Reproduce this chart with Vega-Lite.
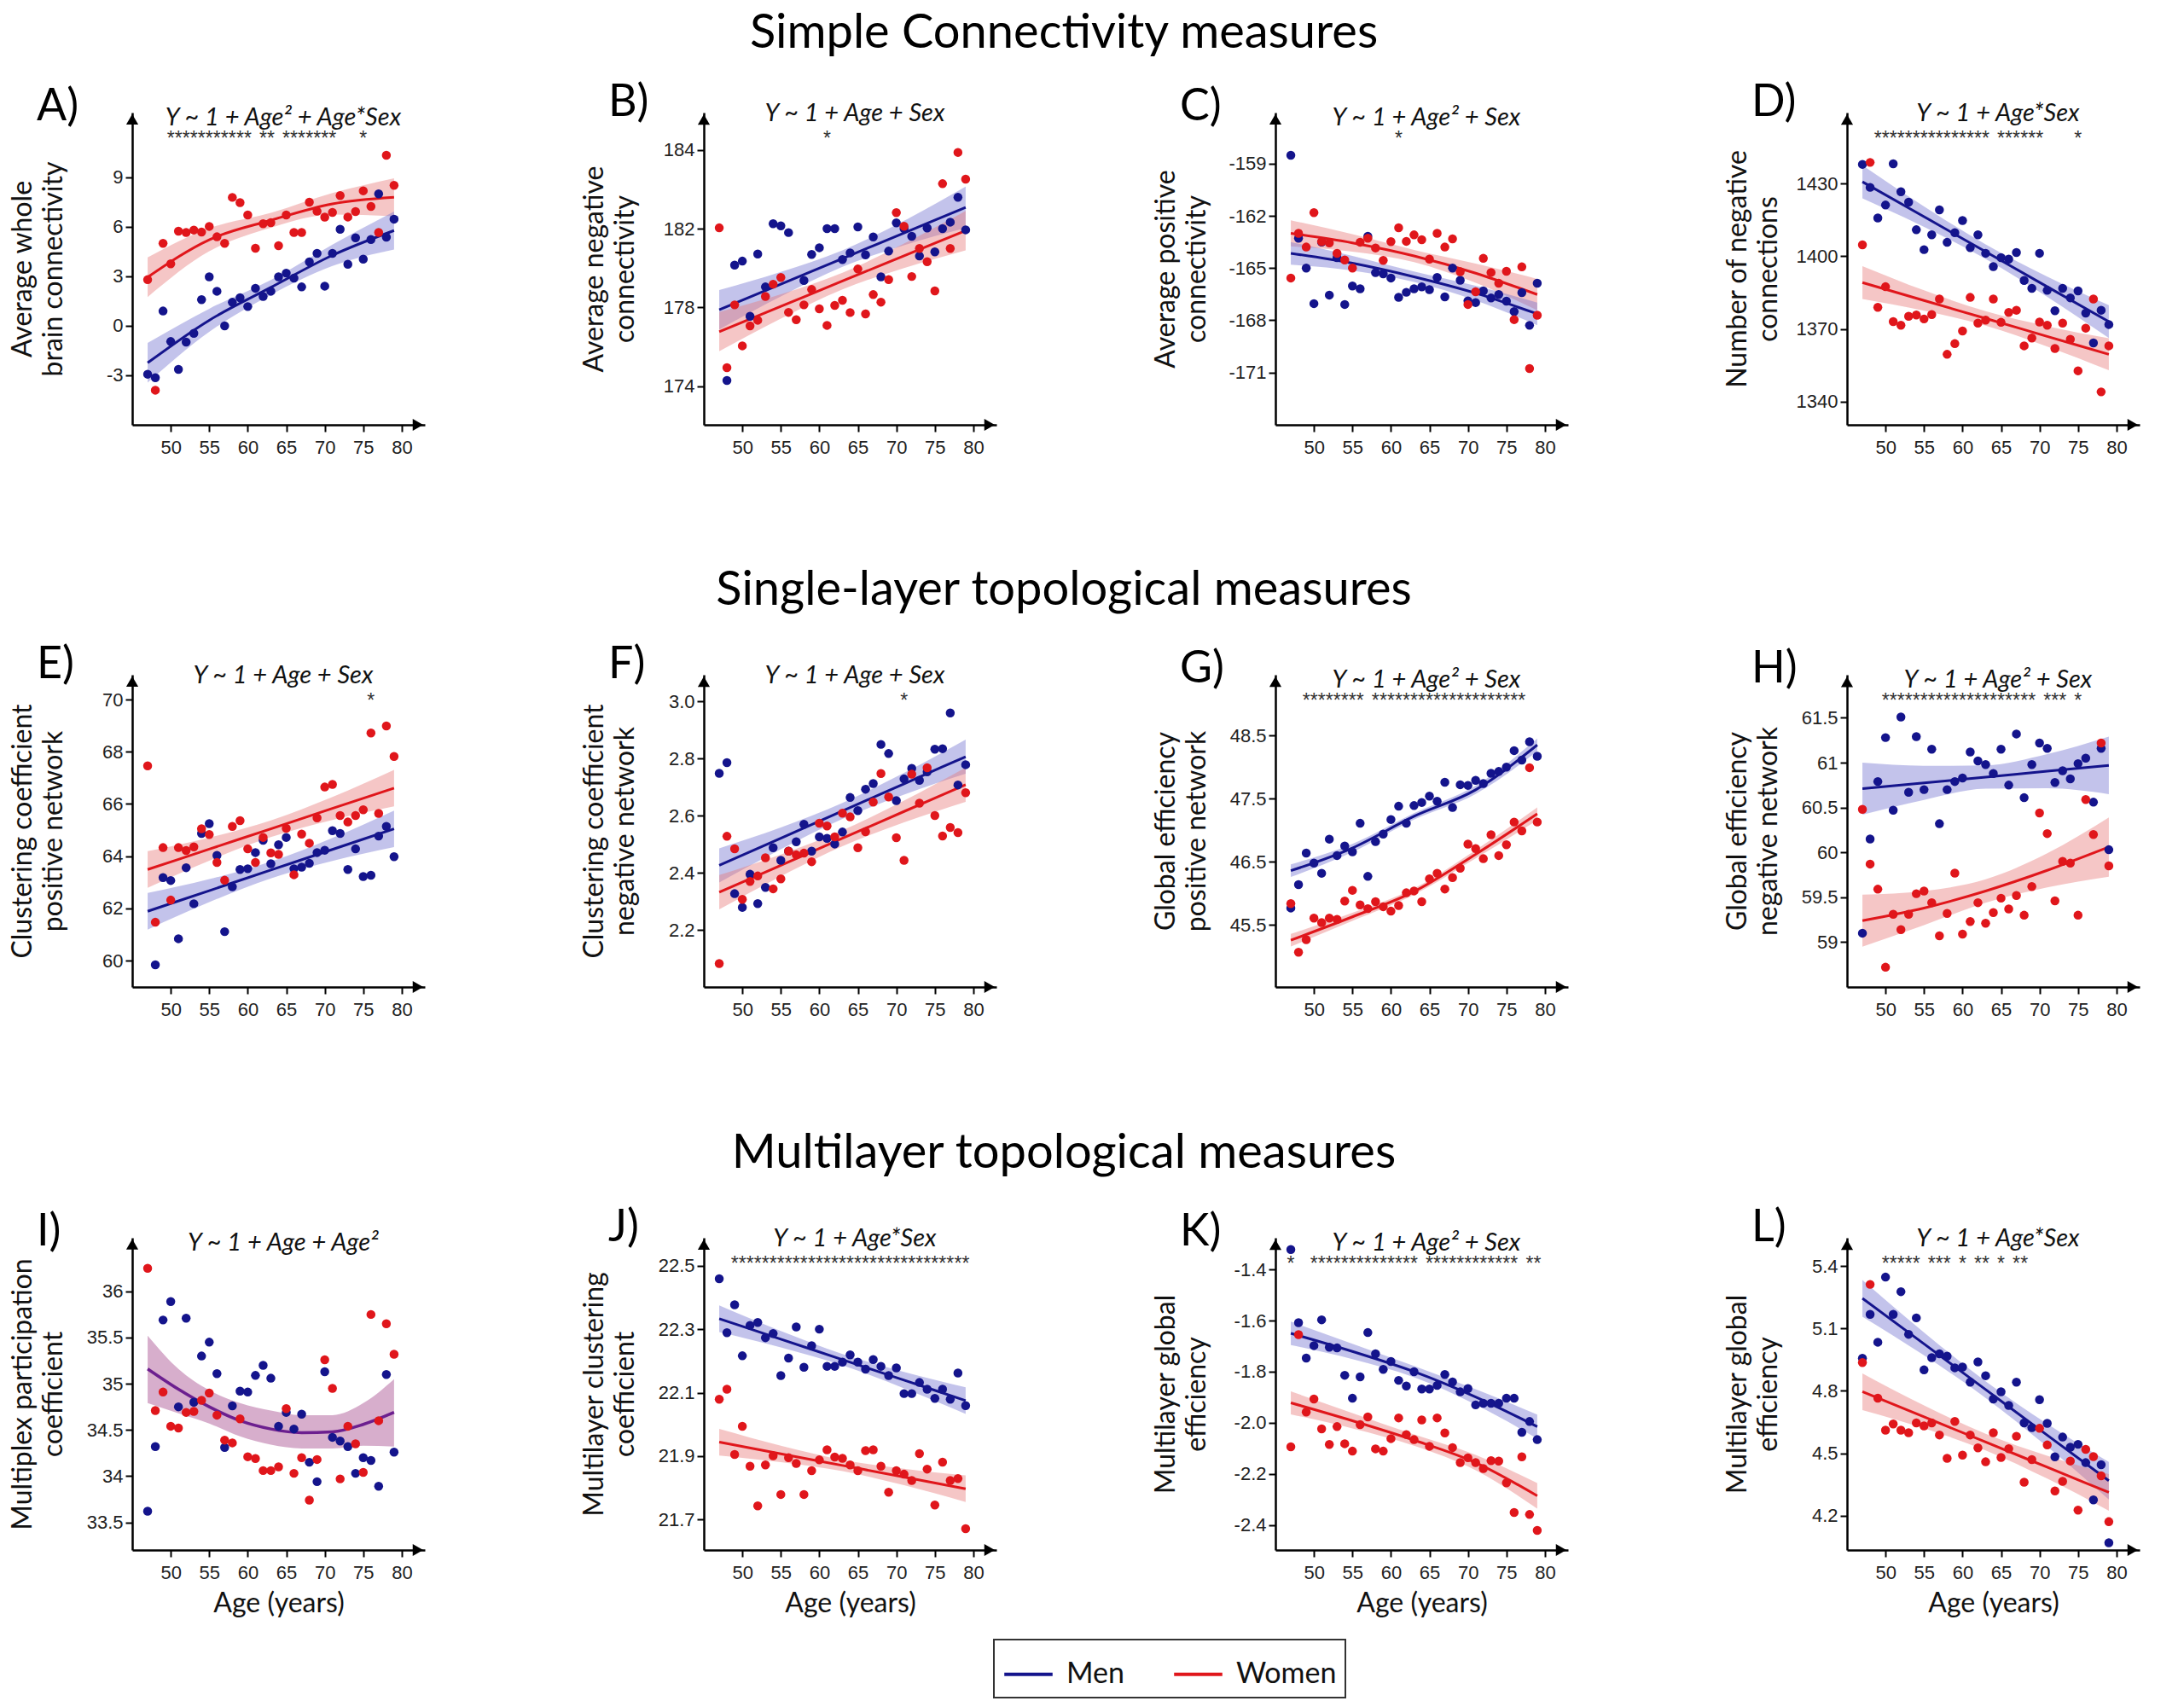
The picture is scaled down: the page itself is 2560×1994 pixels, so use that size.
{
"$schema":"https://vega.github.io/schema/vega-lite/v6.json",
"background":"white",
"padding":{"top":10,"left":9,"right":5,"bottom":2},
"config":{
 "view":{"stroke":null},
 "font":"Lato",
 "axis":{"grid":false,"domainColor":"#000","domainWidth":2.5,"tickColor":"#000","tickWidth":2,"tickSize":8,"labelFont":"Liberation Sans","labelFontSize":22,"labelColor":"#222","titleFont":"Lato","titleFontSize":32,"titleFontWeight":"normal","titleColor":"#111","labelExpr":"replace(datum.label, '\u2212', '-')"},
 "axisX":{"labelPadding":8,"titlePadding":10,"labelFlush":false},
 "axisY":{"labelPadding":3,"titleAngle":-90,"titleX":-112,"titleY":183,"titleAlign":"center","titleBaseline":"bottom","titleLineHeight":36,"labelOverlap":false},
 "legend":{"symbolStrokeWidth":4,"symbolSize":3200,"labelFont":"Lato","labelFontSize":34,"labelColor":"#111","strokeColor":"#333","strokeWidth":2,"padding":10,"columnPadding":50,"labelOffset":14}
},
"datasets":{
"pts":[
{"p":"A","s":"Women","a":47,"v":2.8},{"p":"A","s":"Women","a":48,"v":-3.9},{"p":"A","s":"Women","a":49,"v":5.0},{"p":"A","s":"Women","a":50,"v":3.76},{"p":"A","s":"Women","a":51,"v":5.74},{"p":"A","s":"Women","a":52,"v":5.66},{"p":"A","s":"Women","a":53,"v":5.81},{"p":"A","s":"Women","a":54,"v":5.69},{"p":"A","s":"Women","a":55,"v":6.03},{"p":"A","s":"Women","a":56,"v":5.4},{"p":"A","s":"Women","a":57,"v":5.0},{"p":"A","s":"Women","a":58,"v":7.79},{"p":"A","s":"Women","a":59,"v":7.47},{"p":"A","s":"Women","a":60,"v":6.72},{"p":"A","s":"Women","a":61,"v":4.71},{"p":"A","s":"Women","a":62,"v":6.19},{"p":"A","s":"Women","a":63,"v":6.26},{"p":"A","s":"Women","a":64,"v":4.86},{"p":"A","s":"Women","a":65,"v":6.72},{"p":"A","s":"Women","a":66,"v":5.66},{"p":"A","s":"Women","a":67,"v":5.66},{"p":"A","s":"Women","a":68,"v":7.5},{"p":"A","s":"Women","a":69,"v":6.95},{"p":"A","s":"Women","a":70,"v":6.59},{"p":"A","s":"Women","a":71,"v":6.88},{"p":"A","s":"Women","a":72,"v":7.9},{"p":"A","s":"Women","a":73,"v":6.6},{"p":"A","s":"Women","a":74,"v":6.93},{"p":"A","s":"Women","a":75,"v":8.19},{"p":"A","s":"Women","a":76,"v":7.24},{"p":"A","s":"Women","a":77,"v":5.66},{"p":"A","s":"Women","a":78,"v":10.34},{"p":"A","s":"Women","a":79,"v":8.52},
{"p":"A","s":"Men","a":47,"v":-2.93},{"p":"A","s":"Men","a":48,"v":-3.14},{"p":"A","s":"Men","a":49,"v":0.9},{"p":"A","s":"Men","a":50,"v":-0.95},{"p":"A","s":"Men","a":51,"v":-2.64},{"p":"A","s":"Men","a":52,"v":-0.98},{"p":"A","s":"Men","a":53,"v":-0.45},{"p":"A","s":"Men","a":54,"v":1.59},{"p":"A","s":"Men","a":55,"v":2.97},{"p":"A","s":"Men","a":56,"v":2.1},{"p":"A","s":"Men","a":57,"v":0},{"p":"A","s":"Men","a":58,"v":1.43},{"p":"A","s":"Men","a":59,"v":1.71},{"p":"A","s":"Men","a":60,"v":1.17},{"p":"A","s":"Men","a":61,"v":2.28},{"p":"A","s":"Men","a":62,"v":1.78},{"p":"A","s":"Men","a":63,"v":2.1},{"p":"A","s":"Men","a":64,"v":2.97},{"p":"A","s":"Men","a":65,"v":3.2},{"p":"A","s":"Men","a":66,"v":2.9},{"p":"A","s":"Men","a":67,"v":2.36},{"p":"A","s":"Men","a":68,"v":3.88},{"p":"A","s":"Men","a":69,"v":4.4},{"p":"A","s":"Men","a":70,"v":2.41},{"p":"A","s":"Men","a":71,"v":4.4},{"p":"A","s":"Men","a":72,"v":5.86},{"p":"A","s":"Men","a":73,"v":3.74},{"p":"A","s":"Men","a":74,"v":5.34},{"p":"A","s":"Men","a":75,"v":4.05},{"p":"A","s":"Men","a":76,"v":5.24},{"p":"A","s":"Men","a":77,"v":8.0},{"p":"A","s":"Men","a":78,"v":5.38},{"p":"A","s":"Men","a":79,"v":6.47},
{"p":"B","s":"Women","a":47,"v":182.04},{"p":"B","s":"Women","a":48,"v":174.94},{"p":"B","s":"Women","a":49,"v":178.13},{"p":"B","s":"Women","a":50,"v":176.05},{"p":"B","s":"Women","a":51,"v":177.06},{"p":"B","s":"Women","a":52,"v":177.35},{"p":"B","s":"Women","a":53,"v":178.56},{"p":"B","s":"Women","a":54,"v":179.18},{"p":"B","s":"Women","a":55,"v":179.52},{"p":"B","s":"Women","a":56,"v":177.75},{"p":"B","s":"Women","a":57,"v":177.38},{"p":"B","s":"Women","a":58,"v":178.13},{"p":"B","s":"Women","a":59,"v":178.91},{"p":"B","s":"Women","a":60,"v":177.93},{"p":"B","s":"Women","a":61,"v":177.09},{"p":"B","s":"Women","a":62,"v":178.1},{"p":"B","s":"Women","a":63,"v":178.36},{"p":"B","s":"Women","a":64,"v":177.74},{"p":"B","s":"Women","a":65,"v":179.95},{"p":"B","s":"Women","a":66,"v":177.67},{"p":"B","s":"Women","a":67,"v":178.65},{"p":"B","s":"Women","a":68,"v":178.27},{"p":"B","s":"Women","a":69,"v":179.41},{"p":"B","s":"Women","a":70,"v":182.81},{"p":"B","s":"Women","a":71,"v":182.12},{"p":"B","s":"Women","a":72,"v":179.57},{"p":"B","s":"Women","a":73,"v":180.99},{"p":"B","s":"Women","a":74,"v":180.32},{"p":"B","s":"Women","a":75,"v":178.84},{"p":"B","s":"Women","a":76,"v":184.28},{"p":"B","s":"Women","a":77,"v":180.99},{"p":"B","s":"Women","a":78,"v":185.87},{"p":"B","s":"Women","a":79,"v":184.51},
{"p":"B","s":"Men","a":48,"v":174.29},{"p":"B","s":"Men","a":49,"v":180.15},{"p":"B","s":"Men","a":50,"v":180.35},{"p":"B","s":"Men","a":51,"v":177.55},{"p":"B","s":"Men","a":52,"v":180.71},{"p":"B","s":"Men","a":53,"v":179.04},{"p":"B","s":"Men","a":54,"v":182.25},{"p":"B","s":"Men","a":55,"v":182.14},{"p":"B","s":"Men","a":56,"v":181.8},{"p":"B","s":"Men","a":58,"v":179.37},{"p":"B","s":"Men","a":59,"v":180.69},{"p":"B","s":"Men","a":60,"v":181.03},{"p":"B","s":"Men","a":61,"v":182.0},{"p":"B","s":"Men","a":62,"v":182.0},{"p":"B","s":"Men","a":63,"v":180.43},{"p":"B","s":"Men","a":64,"v":180.77},{"p":"B","s":"Men","a":65,"v":182.09},{"p":"B","s":"Men","a":66,"v":180.67},{"p":"B","s":"Men","a":67,"v":181.58},{"p":"B","s":"Men","a":68,"v":179.55},{"p":"B","s":"Men","a":69,"v":180.86},{"p":"B","s":"Men","a":70,"v":182.29},{"p":"B","s":"Men","a":71,"v":182.0},{"p":"B","s":"Men","a":72,"v":181.61},{"p":"B","s":"Men","a":73,"v":180.61},{"p":"B","s":"Men","a":74,"v":182.03},{"p":"B","s":"Men","a":75,"v":180.82},{"p":"B","s":"Men","a":76,"v":182.0},{"p":"B","s":"Men","a":77,"v":182.33},{"p":"B","s":"Men","a":78,"v":183.59},{"p":"B","s":"Men","a":79,"v":181.94},
{"p":"C","s":"Women","a":47,"v":-165.57},{"p":"C","s":"Women","a":48,"v":-163.0},{"p":"C","s":"Women","a":49,"v":-163.79},{"p":"C","s":"Women","a":50,"v":-161.81},{"p":"C","s":"Women","a":51,"v":-163.48},{"p":"C","s":"Women","a":52,"v":-163.55},{"p":"C","s":"Women","a":53,"v":-164.15},{"p":"C","s":"Women","a":54,"v":-164.53},{"p":"C","s":"Women","a":55,"v":-165.0},{"p":"C","s":"Women","a":56,"v":-163.51},{"p":"C","s":"Women","a":57,"v":-163.28},{"p":"C","s":"Women","a":58,"v":-163.84},{"p":"C","s":"Women","a":59,"v":-164.56},{"p":"C","s":"Women","a":60,"v":-163.48},{"p":"C","s":"Women","a":61,"v":-162.68},{"p":"C","s":"Women","a":62,"v":-163.46},{"p":"C","s":"Women","a":63,"v":-163.09},{"p":"C","s":"Women","a":64,"v":-163.37},{"p":"C","s":"Women","a":65,"v":-164.48},{"p":"C","s":"Women","a":66,"v":-163.0},{"p":"C","s":"Women","a":67,"v":-163.79},{"p":"C","s":"Women","a":68,"v":-163.32},{"p":"C","s":"Women","a":69,"v":-165.21},{"p":"C","s":"Women","a":70,"v":-167.09},{"p":"C","s":"Women","a":71,"v":-166.36},{"p":"C","s":"Women","a":72,"v":-164.44},{"p":"C","s":"Women","a":73,"v":-165.25},{"p":"C","s":"Women","a":74,"v":-165.87},{"p":"C","s":"Women","a":75,"v":-165.18},{"p":"C","s":"Women","a":76,"v":-167.96},{"p":"C","s":"Women","a":77,"v":-164.93},{"p":"C","s":"Women","a":78,"v":-170.77},{"p":"C","s":"Women","a":79,"v":-167.71},
{"p":"C","s":"Men","a":47,"v":-158.51},{"p":"C","s":"Men","a":48,"v":-163.28},{"p":"C","s":"Men","a":49,"v":-165.0},{"p":"C","s":"Men","a":50,"v":-167.04},{"p":"C","s":"Men","a":51,"v":-163.5},{"p":"C","s":"Men","a":52,"v":-166.55},{"p":"C","s":"Men","a":53,"v":-164.4},{"p":"C","s":"Men","a":54,"v":-167.09},{"p":"C","s":"Men","a":55,"v":-166.03},{"p":"C","s":"Men","a":56,"v":-166.19},{"p":"C","s":"Men","a":57,"v":-163.17},{"p":"C","s":"Men","a":58,"v":-165.26},{"p":"C","s":"Men","a":59,"v":-165.33},{"p":"C","s":"Men","a":60,"v":-165.57},{"p":"C","s":"Men","a":61,"v":-166.68},{"p":"C","s":"Men","a":62,"v":-166.39},{"p":"C","s":"Men","a":63,"v":-166.19},{"p":"C","s":"Men","a":64,"v":-166.08},{"p":"C","s":"Men","a":65,"v":-166.24},{"p":"C","s":"Men","a":66,"v":-165.54},{"p":"C","s":"Men","a":67,"v":-166.65},{"p":"C","s":"Men","a":68,"v":-165.0},{"p":"C","s":"Men","a":69,"v":-165.7},{"p":"C","s":"Men","a":70,"v":-166.88},{"p":"C","s":"Men","a":71,"v":-166.98},{"p":"C","s":"Men","a":72,"v":-166.31},{"p":"C","s":"Men","a":73,"v":-166.72},{"p":"C","s":"Men","a":74,"v":-166.52},{"p":"C","s":"Men","a":75,"v":-166.9},{"p":"C","s":"Men","a":76,"v":-167.5},{"p":"C","s":"Men","a":77,"v":-166.41},{"p":"C","s":"Men","a":78,"v":-168.29},{"p":"C","s":"Men","a":79,"v":-165.87},
{"p":"D","s":"Men","a":47,"v":1437.9},{"p":"D","s":"Men","a":48,"v":1428.4},{"p":"D","s":"Men","a":49,"v":1415.8},{"p":"D","s":"Men","a":50,"v":1421.1},{"p":"D","s":"Men","a":51,"v":1438.1},{"p":"D","s":"Men","a":52,"v":1426.6},{"p":"D","s":"Men","a":53,"v":1422.3},{"p":"D","s":"Men","a":54,"v":1410.9},{"p":"D","s":"Men","a":55,"v":1402.7},{"p":"D","s":"Men","a":56,"v":1408.8},{"p":"D","s":"Men","a":57,"v":1419.1},{"p":"D","s":"Men","a":58,"v":1405.7},{"p":"D","s":"Men","a":59,"v":1409.7},{"p":"D","s":"Men","a":60,"v":1414.7},{"p":"D","s":"Men","a":61,"v":1403.5},{"p":"D","s":"Men","a":62,"v":1408.8},{"p":"D","s":"Men","a":63,"v":1401.2},{"p":"D","s":"Men","a":64,"v":1395.7},{"p":"D","s":"Men","a":65,"v":1399.4},{"p":"D","s":"Men","a":66,"v":1398.8},{"p":"D","s":"Men","a":67,"v":1401.5},{"p":"D","s":"Men","a":68,"v":1390.0},{"p":"D","s":"Men","a":69,"v":1386.7},{"p":"D","s":"Men","a":70,"v":1401.2},{"p":"D","s":"Men","a":71,"v":1385.9},{"p":"D","s":"Men","a":72,"v":1377.5},{"p":"D","s":"Men","a":73,"v":1386.7},{"p":"D","s":"Men","a":74,"v":1382.8},{"p":"D","s":"Men","a":75,"v":1385.7},{"p":"D","s":"Men","a":76,"v":1376.5},{"p":"D","s":"Men","a":77,"v":1364.2},{"p":"D","s":"Men","a":78,"v":1377.7},{"p":"D","s":"Men","a":79,"v":1371.8},
{"p":"D","s":"Women","a":47,"v":1404.7},{"p":"D","s":"Women","a":48,"v":1438.7},{"p":"D","s":"Women","a":49,"v":1378.9},{"p":"D","s":"Women","a":50,"v":1387.4},{"p":"D","s":"Women","a":51,"v":1373.0},{"p":"D","s":"Women","a":52,"v":1371.5},{"p":"D","s":"Women","a":53,"v":1375.2},{"p":"D","s":"Women","a":54,"v":1375.7},{"p":"D","s":"Women","a":55,"v":1374.1},{"p":"D","s":"Women","a":56,"v":1375.9},{"p":"D","s":"Women","a":57,"v":1382.3},{"p":"D","s":"Women","a":58,"v":1359.5},{"p":"D","s":"Women","a":59,"v":1363.9},{"p":"D","s":"Women","a":60,"v":1369.1},{"p":"D","s":"Women","a":61,"v":1383.0},{"p":"D","s":"Women","a":62,"v":1372.4},{"p":"D","s":"Women","a":63,"v":1373.6},{"p":"D","s":"Women","a":64,"v":1382.3},{"p":"D","s":"Women","a":65,"v":1372.7},{"p":"D","s":"Women","a":66,"v":1376.8},{"p":"D","s":"Women","a":67,"v":1377.7},{"p":"D","s":"Women","a":68,"v":1363.0},{"p":"D","s":"Women","a":69,"v":1366.2},{"p":"D","s":"Women","a":70,"v":1372.8},{"p":"D","s":"Women","a":71,"v":1371.5},{"p":"D","s":"Women","a":72,"v":1361.9},{"p":"D","s":"Women","a":73,"v":1372.4},{"p":"D","s":"Women","a":74,"v":1365.7},{"p":"D","s":"Women","a":75,"v":1352.7},{"p":"D","s":"Women","a":76,"v":1370.3},{"p":"D","s":"Women","a":77,"v":1382.3},{"p":"D","s":"Women","a":78,"v":1344.0},{"p":"D","s":"Women","a":79,"v":1363.0},
{"p":"E","s":"Women","a":47,"v":67.46},{"p":"E","s":"Women","a":48,"v":61.47},{"p":"E","s":"Women","a":49,"v":64.33},{"p":"E","s":"Women","a":50,"v":62.32},{"p":"E","s":"Women","a":51,"v":64.33},{"p":"E","s":"Women","a":52,"v":64.22},{"p":"E","s":"Women","a":53,"v":64.36},{"p":"E","s":"Women","a":54,"v":65.05},{"p":"E","s":"Women","a":55,"v":64.83},{"p":"E","s":"Women","a":56,"v":63.76},{"p":"E","s":"Women","a":57,"v":63.08},{"p":"E","s":"Women","a":58,"v":65.14},{"p":"E","s":"Women","a":59,"v":65.36},{"p":"E","s":"Women","a":60,"v":64.28},{"p":"E","s":"Women","a":61,"v":63.76},{"p":"E","s":"Women","a":62,"v":64.72},{"p":"E","s":"Women","a":63,"v":64.13},{"p":"E","s":"Women","a":64,"v":64.07},{"p":"E","s":"Women","a":65,"v":65.07},{"p":"E","s":"Women","a":66,"v":63.29},{"p":"E","s":"Women","a":67,"v":64.85},{"p":"E","s":"Women","a":68,"v":64.5},{"p":"E","s":"Women","a":69,"v":65.47},{"p":"E","s":"Women","a":70,"v":66.65},{"p":"E","s":"Women","a":71,"v":66.75},{"p":"E","s":"Women","a":72,"v":65.56},{"p":"E","s":"Women","a":73,"v":65.31},{"p":"E","s":"Women","a":74,"v":65.56},{"p":"E","s":"Women","a":75,"v":65.78},{"p":"E","s":"Women","a":76,"v":68.72},{"p":"E","s":"Women","a":77,"v":65.64},{"p":"E","s":"Women","a":78,"v":68.99},{"p":"E","s":"Women","a":79,"v":67.82},
{"p":"E","s":"Men","a":48,"v":59.84},{"p":"E","s":"Men","a":49,"v":63.18},{"p":"E","s":"Men","a":50,"v":63.07},{"p":"E","s":"Men","a":51,"v":60.84},{"p":"E","s":"Men","a":52,"v":63.56},{"p":"E","s":"Men","a":53,"v":62.18},{"p":"E","s":"Men","a":54,"v":64.87},{"p":"E","s":"Men","a":55,"v":65.25},{"p":"E","s":"Men","a":56,"v":64.03},{"p":"E","s":"Men","a":57,"v":61.11},{"p":"E","s":"Men","a":58,"v":62.83},{"p":"E","s":"Men","a":59,"v":63.49},{"p":"E","s":"Men","a":60,"v":63.52},{"p":"E","s":"Men","a":61,"v":64.14},{"p":"E","s":"Men","a":62,"v":64.61},{"p":"E","s":"Men","a":63,"v":63.71},{"p":"E","s":"Men","a":64,"v":64.44},{"p":"E","s":"Men","a":65,"v":64.72},{"p":"E","s":"Men","a":66,"v":63.52},{"p":"E","s":"Men","a":67,"v":63.58},{"p":"E","s":"Men","a":68,"v":63.73},{"p":"E","s":"Men","a":69,"v":64.14},{"p":"E","s":"Men","a":70,"v":64.23},{"p":"E","s":"Men","a":71,"v":64.98},{"p":"E","s":"Men","a":72,"v":64.87},{"p":"E","s":"Men","a":73,"v":63.49},{"p":"E","s":"Men","a":74,"v":64.28},{"p":"E","s":"Men","a":75,"v":63.22},{"p":"E","s":"Men","a":76,"v":63.27},{"p":"E","s":"Men","a":77,"v":64.77},{"p":"E","s":"Men","a":78,"v":65.14},{"p":"E","s":"Men","a":79,"v":63.98},
{"p":"F","s":"Men","a":47,"v":2.749},{"p":"F","s":"Men","a":48,"v":2.786},{"p":"F","s":"Men","a":49,"v":2.327},{"p":"F","s":"Men","a":50,"v":2.279},{"p":"F","s":"Men","a":51,"v":2.395},{"p":"F","s":"Men","a":52,"v":2.292},{"p":"F","s":"Men","a":53,"v":2.349},{"p":"F","s":"Men","a":54,"v":2.488},{"p":"F","s":"Men","a":55,"v":2.444},{"p":"F","s":"Men","a":56,"v":2.476},{"p":"F","s":"Men","a":57,"v":2.509},{"p":"F","s":"Men","a":58,"v":2.57},{"p":"F","s":"Men","a":59,"v":2.476},{"p":"F","s":"Men","a":60,"v":2.526},{"p":"F","s":"Men","a":61,"v":2.521},{"p":"F","s":"Men","a":62,"v":2.501},{"p":"F","s":"Men","a":63,"v":2.543},{"p":"F","s":"Men","a":64,"v":2.664},{"p":"F","s":"Men","a":65,"v":2.618},{"p":"F","s":"Men","a":66,"v":2.693},{"p":"F","s":"Men","a":67,"v":2.713},{"p":"F","s":"Men","a":68,"v":2.85},{"p":"F","s":"Men","a":69,"v":2.818},{"p":"F","s":"Men","a":70,"v":2.653},{"p":"F","s":"Men","a":71,"v":2.729},{"p":"F","s":"Men","a":72,"v":2.766},{"p":"F","s":"Men","a":73,"v":2.724},{"p":"F","s":"Men","a":74,"v":2.754},{"p":"F","s":"Men","a":75,"v":2.833},{"p":"F","s":"Men","a":76,"v":2.835},{"p":"F","s":"Men","a":77,"v":2.96},{"p":"F","s":"Men","a":78,"v":2.708},{"p":"F","s":"Men","a":79,"v":2.779},
{"p":"F","s":"Women","a":47,"v":2.082},{"p":"F","s":"Women","a":48,"v":2.528},{"p":"F","s":"Women","a":49,"v":2.484},{"p":"F","s":"Women","a":50,"v":2.307},{"p":"F","s":"Women","a":51,"v":2.37},{"p":"F","s":"Women","a":52,"v":2.389},{"p":"F","s":"Women","a":53,"v":2.453},{"p":"F","s":"Women","a":54,"v":2.344},{"p":"F","s":"Women","a":55,"v":2.379},{"p":"F","s":"Women","a":56,"v":2.476},{"p":"F","s":"Women","a":57,"v":2.463},{"p":"F","s":"Women","a":58,"v":2.469},{"p":"F","s":"Women","a":59,"v":2.439},{"p":"F","s":"Women","a":60,"v":2.574},{"p":"F","s":"Women","a":61,"v":2.564},{"p":"F","s":"Women","a":62,"v":2.526},{"p":"F","s":"Women","a":63,"v":2.609},{"p":"F","s":"Women","a":64,"v":2.596},{"p":"F","s":"Women","a":65,"v":2.488},{"p":"F","s":"Women","a":66,"v":2.544},{"p":"F","s":"Women","a":67,"v":2.648},{"p":"F","s":"Women","a":68,"v":2.748},{"p":"F","s":"Women","a":69,"v":2.666},{"p":"F","s":"Women","a":70,"v":2.523},{"p":"F","s":"Women","a":71,"v":2.444},{"p":"F","s":"Women","a":72,"v":2.746},{"p":"F","s":"Women","a":73,"v":2.644},{"p":"F","s":"Women","a":74,"v":2.768},{"p":"F","s":"Women","a":75,"v":2.601},{"p":"F","s":"Women","a":76,"v":2.529},{"p":"F","s":"Women","a":77,"v":2.559},{"p":"F","s":"Women","a":78,"v":2.541},{"p":"F","s":"Women","a":79,"v":2.681},
{"p":"G","s":"Men","a":47,"v":45.77},{"p":"G","s":"Men","a":48,"v":46.14},{"p":"G","s":"Men","a":49,"v":46.64},{"p":"G","s":"Men","a":50,"v":46.48},{"p":"G","s":"Men","a":51,"v":46.32},{"p":"G","s":"Men","a":52,"v":46.86},{"p":"G","s":"Men","a":53,"v":46.6},{"p":"G","s":"Men","a":54,"v":46.75},{"p":"G","s":"Men","a":55,"v":46.66},{"p":"G","s":"Men","a":56,"v":47.11},{"p":"G","s":"Men","a":57,"v":46.27},{"p":"G","s":"Men","a":58,"v":46.82},{"p":"G","s":"Men","a":59,"v":46.94},{"p":"G","s":"Men","a":60,"v":47.17},{"p":"G","s":"Men","a":61,"v":47.38},{"p":"G","s":"Men","a":62,"v":47.11},{"p":"G","s":"Men","a":63,"v":47.39},{"p":"G","s":"Men","a":64,"v":47.44},{"p":"G","s":"Men","a":65,"v":47.54},{"p":"G","s":"Men","a":66,"v":47.46},{"p":"G","s":"Men","a":67,"v":47.76},{"p":"G","s":"Men","a":68,"v":47.36},{"p":"G","s":"Men","a":69,"v":47.72},{"p":"G","s":"Men","a":70,"v":47.71},{"p":"G","s":"Men","a":71,"v":47.79},{"p":"G","s":"Men","a":72,"v":47.74},{"p":"G","s":"Men","a":73,"v":47.9},{"p":"G","s":"Men","a":74,"v":47.93},{"p":"G","s":"Men","a":75,"v":48.0},{"p":"G","s":"Men","a":76,"v":48.26},{"p":"G","s":"Men","a":77,"v":48.11},{"p":"G","s":"Men","a":78,"v":48.4},{"p":"G","s":"Men","a":79,"v":48.17},
{"p":"G","s":"Women","a":47,"v":45.84},{"p":"G","s":"Women","a":48,"v":45.07},{"p":"G","s":"Women","a":49,"v":45.27},{"p":"G","s":"Women","a":50,"v":45.61},{"p":"G","s":"Women","a":51,"v":45.54},{"p":"G","s":"Women","a":52,"v":45.61},{"p":"G","s":"Women","a":53,"v":45.59},{"p":"G","s":"Women","a":54,"v":45.88},{"p":"G","s":"Women","a":55,"v":46.05},{"p":"G","s":"Women","a":56,"v":45.82},{"p":"G","s":"Women","a":57,"v":45.76},{"p":"G","s":"Women","a":58,"v":45.87},{"p":"G","s":"Women","a":59,"v":45.79},{"p":"G","s":"Women","a":60,"v":45.72},{"p":"G","s":"Women","a":61,"v":45.81},{"p":"G","s":"Women","a":62,"v":46.01},{"p":"G","s":"Women","a":63,"v":46.04},{"p":"G","s":"Women","a":64,"v":45.87},{"p":"G","s":"Women","a":65,"v":46.23},{"p":"G","s":"Women","a":66,"v":46.32},{"p":"G","s":"Women","a":67,"v":46.07},{"p":"G","s":"Women","a":68,"v":46.25},{"p":"G","s":"Women","a":69,"v":46.4},{"p":"G","s":"Women","a":70,"v":46.78},{"p":"G","s":"Women","a":71,"v":46.71},{"p":"G","s":"Women","a":72,"v":46.55},{"p":"G","s":"Women","a":73,"v":46.93},{"p":"G","s":"Women","a":74,"v":46.6},{"p":"G","s":"Women","a":75,"v":46.77},{"p":"G","s":"Women","a":76,"v":47.13},{"p":"G","s":"Women","a":77,"v":46.99},{"p":"G","s":"Women","a":78,"v":47.99},{"p":"G","s":"Women","a":79,"v":47.13},
{"p":"H","s":"Men","a":47,"v":59.1},{"p":"H","s":"Men","a":48,"v":60.15},{"p":"H","s":"Men","a":49,"v":60.79},{"p":"H","s":"Men","a":50,"v":61.28},{"p":"H","s":"Men","a":51,"v":60.47},{"p":"H","s":"Men","a":52,"v":61.51},{"p":"H","s":"Men","a":53,"v":60.67},{"p":"H","s":"Men","a":54,"v":61.29},{"p":"H","s":"Men","a":55,"v":60.7},{"p":"H","s":"Men","a":56,"v":61.15},{"p":"H","s":"Men","a":57,"v":60.32},{"p":"H","s":"Men","a":58,"v":60.7},{"p":"H","s":"Men","a":59,"v":60.79},{"p":"H","s":"Men","a":60,"v":60.83},{"p":"H","s":"Men","a":61,"v":61.12},{"p":"H","s":"Men","a":62,"v":61.02},{"p":"H","s":"Men","a":63,"v":60.98},{"p":"H","s":"Men","a":64,"v":60.88},{"p":"H","s":"Men","a":65,"v":61.15},{"p":"H","s":"Men","a":66,"v":60.75},{"p":"H","s":"Men","a":67,"v":61.32},{"p":"H","s":"Men","a":68,"v":60.61},{"p":"H","s":"Men","a":69,"v":60.98},{"p":"H","s":"Men","a":70,"v":61.22},{"p":"H","s":"Men","a":71,"v":61.16},{"p":"H","s":"Men","a":72,"v":60.78},{"p":"H","s":"Men","a":73,"v":60.91},{"p":"H","s":"Men","a":74,"v":60.82},{"p":"H","s":"Men","a":75,"v":60.99},{"p":"H","s":"Men","a":76,"v":61.05},{"p":"H","s":"Men","a":77,"v":60.56},{"p":"H","s":"Men","a":78,"v":61.16},{"p":"H","s":"Men","a":79,"v":60.03},
{"p":"H","s":"Women","a":47,"v":60.48},{"p":"H","s":"Women","a":48,"v":59.87},{"p":"H","s":"Women","a":49,"v":59.59},{"p":"H","s":"Women","a":50,"v":58.72},{"p":"H","s":"Women","a":51,"v":59.31},{"p":"H","s":"Women","a":52,"v":59.14},{"p":"H","s":"Women","a":53,"v":59.31},{"p":"H","s":"Women","a":54,"v":59.54},{"p":"H","s":"Women","a":55,"v":59.57},{"p":"H","s":"Women","a":56,"v":59.44},{"p":"H","s":"Women","a":57,"v":59.07},{"p":"H","s":"Women","a":58,"v":59.32},{"p":"H","s":"Women","a":59,"v":59.77},{"p":"H","s":"Women","a":60,"v":59.09},{"p":"H","s":"Women","a":61,"v":59.23},{"p":"H","s":"Women","a":62,"v":59.44},{"p":"H","s":"Women","a":63,"v":59.21},{"p":"H","s":"Women","a":64,"v":59.33},{"p":"H","s":"Women","a":65,"v":59.49},{"p":"H","s":"Women","a":66,"v":59.37},{"p":"H","s":"Women","a":67,"v":59.52},{"p":"H","s":"Women","a":68,"v":59.3},{"p":"H","s":"Women","a":69,"v":59.62},{"p":"H","s":"Women","a":70,"v":60.44},{"p":"H","s":"Women","a":71,"v":60.21},{"p":"H","s":"Women","a":72,"v":59.46},{"p":"H","s":"Women","a":73,"v":59.9},{"p":"H","s":"Women","a":74,"v":59.88},{"p":"H","s":"Women","a":75,"v":59.3},{"p":"H","s":"Women","a":76,"v":60.59},{"p":"H","s":"Women","a":77,"v":60.2},{"p":"H","s":"Women","a":78,"v":61.22},{"p":"H","s":"Women","a":79,"v":59.85},
{"p":"I","s":"Women","a":47,"v":36.25},{"p":"I","s":"Women","a":48,"v":34.71},{"p":"I","s":"Women","a":49,"v":34.91},{"p":"I","s":"Women","a":50,"v":34.54},{"p":"I","s":"Women","a":51,"v":34.52},{"p":"I","s":"Women","a":52,"v":34.69},{"p":"I","s":"Women","a":53,"v":34.7},{"p":"I","s":"Women","a":54,"v":34.82},{"p":"I","s":"Women","a":55,"v":34.9},{"p":"I","s":"Women","a":56,"v":34.66},{"p":"I","s":"Women","a":57,"v":34.39},{"p":"I","s":"Women","a":58,"v":34.36},{"p":"I","s":"Women","a":59,"v":34.62},{"p":"I","s":"Women","a":60,"v":34.21},{"p":"I","s":"Women","a":61,"v":34.19},{"p":"I","s":"Women","a":62,"v":34.06},{"p":"I","s":"Women","a":63,"v":34.06},{"p":"I","s":"Women","a":64,"v":34.1},{"p":"I","s":"Women","a":65,"v":34.73},{"p":"I","s":"Women","a":66,"v":34.03},{"p":"I","s":"Women","a":67,"v":34.2},{"p":"I","s":"Women","a":68,"v":33.74},{"p":"I","s":"Women","a":69,"v":34.18},{"p":"I","s":"Women","a":70,"v":35.26},{"p":"I","s":"Women","a":71,"v":34.95},{"p":"I","s":"Women","a":72,"v":33.97},{"p":"I","s":"Women","a":73,"v":34.54},{"p":"I","s":"Women","a":74,"v":34.35},{"p":"I","s":"Women","a":75,"v":34.04},{"p":"I","s":"Women","a":76,"v":35.75},{"p":"I","s":"Women","a":77,"v":34.6},{"p":"I","s":"Women","a":78,"v":35.65},{"p":"I","s":"Women","a":79,"v":35.32},
{"p":"I","s":"Men","a":47,"v":33.62},{"p":"I","s":"Men","a":48,"v":34.32},{"p":"I","s":"Men","a":49,"v":35.69},{"p":"I","s":"Men","a":50,"v":35.89},{"p":"I","s":"Men","a":51,"v":34.75},{"p":"I","s":"Men","a":52,"v":35.71},{"p":"I","s":"Men","a":53,"v":34.8},{"p":"I","s":"Men","a":54,"v":35.3},{"p":"I","s":"Men","a":55,"v":35.45},{"p":"I","s":"Men","a":56,"v":35.11},{"p":"I","s":"Men","a":57,"v":34.31},{"p":"I","s":"Men","a":58,"v":34.76},{"p":"I","s":"Men","a":59,"v":34.92},{"p":"I","s":"Men","a":60,"v":34.91},{"p":"I","s":"Men","a":61,"v":35.09},{"p":"I","s":"Men","a":62,"v":35.2},{"p":"I","s":"Men","a":63,"v":35.06},{"p":"I","s":"Men","a":64,"v":34.54},{"p":"I","s":"Men","a":65,"v":34.69},{"p":"I","s":"Men","a":66,"v":34.51},{"p":"I","s":"Men","a":67,"v":34.67},{"p":"I","s":"Men","a":68,"v":34.15},{"p":"I","s":"Men","a":69,"v":33.94},{"p":"I","s":"Men","a":70,"v":35.13},{"p":"I","s":"Men","a":71,"v":34.42},{"p":"I","s":"Men","a":72,"v":34.38},{"p":"I","s":"Men","a":73,"v":34.32},{"p":"I","s":"Men","a":74,"v":34.03},{"p":"I","s":"Men","a":75,"v":34.2},{"p":"I","s":"Men","a":76,"v":34.17},{"p":"I","s":"Men","a":77,"v":33.89},{"p":"I","s":"Men","a":78,"v":35.1},{"p":"I","s":"Men","a":79,"v":34.26},
{"p":"J","s":"Men","a":47,"v":22.459},{"p":"J","s":"Men","a":48,"v":22.289},{"p":"J","s":"Men","a":49,"v":22.377},{"p":"J","s":"Men","a":50,"v":22.216},{"p":"J","s":"Men","a":51,"v":22.312},{"p":"J","s":"Men","a":52,"v":22.321},{"p":"J","s":"Men","a":53,"v":22.273},{"p":"J","s":"Men","a":54,"v":22.286},{"p":"J","s":"Men","a":55,"v":22.154},{"p":"J","s":"Men","a":56,"v":22.209},{"p":"J","s":"Men","a":57,"v":22.307},{"p":"J","s":"Men","a":58,"v":22.18},{"p":"J","s":"Men","a":59,"v":22.248},{"p":"J","s":"Men","a":60,"v":22.3},{"p":"J","s":"Men","a":61,"v":22.183},{"p":"J","s":"Men","a":62,"v":22.183},{"p":"J","s":"Men","a":63,"v":22.196},{"p":"J","s":"Men","a":64,"v":22.219},{"p":"J","s":"Men","a":65,"v":22.196},{"p":"J","s":"Men","a":66,"v":22.174},{"p":"J","s":"Men","a":67,"v":22.204},{"p":"J","s":"Men","a":68,"v":22.183},{"p":"J","s":"Men","a":69,"v":22.154},{"p":"J","s":"Men","a":70,"v":22.178},{"p":"J","s":"Men","a":71,"v":22.097},{"p":"J","s":"Men","a":72,"v":22.097},{"p":"J","s":"Men","a":73,"v":22.132},{"p":"J","s":"Men","a":74,"v":22.111},{"p":"J","s":"Men","a":75,"v":22.082},{"p":"J","s":"Men","a":76,"v":22.111},{"p":"J","s":"Men","a":77,"v":22.079},{"p":"J","s":"Men","a":78,"v":22.162},{"p":"J","s":"Men","a":79,"v":22.059},
{"p":"J","s":"Women","a":47,"v":22.079},{"p":"J","s":"Women","a":48,"v":22.111},{"p":"J","s":"Women","a":49,"v":21.905},{"p":"J","s":"Women","a":50,"v":21.994},{"p":"J","s":"Women","a":51,"v":21.868},{"p":"J","s":"Women","a":52,"v":21.743},{"p":"J","s":"Women","a":53,"v":21.872},{"p":"J","s":"Women","a":54,"v":21.901},{"p":"J","s":"Women","a":55,"v":21.779},{"p":"J","s":"Women","a":56,"v":21.895},{"p":"J","s":"Women","a":57,"v":21.877},{"p":"J","s":"Women","a":58,"v":21.779},{"p":"J","s":"Women","a":59,"v":21.854},{"p":"J","s":"Women","a":60,"v":21.888},{"p":"J","s":"Women","a":61,"v":21.92},{"p":"J","s":"Women","a":62,"v":21.897},{"p":"J","s":"Women","a":63,"v":21.893},{"p":"J","s":"Women","a":64,"v":21.872},{"p":"J","s":"Women","a":65,"v":21.854},{"p":"J","s":"Women","a":66,"v":21.917},{"p":"J","s":"Women","a":67,"v":21.92},{"p":"J","s":"Women","a":68,"v":21.868},{"p":"J","s":"Women","a":69,"v":21.786},{"p":"J","s":"Women","a":70,"v":21.854},{"p":"J","s":"Women","a":71,"v":21.843},{"p":"J","s":"Women","a":72,"v":21.823},{"p":"J","s":"Women","a":73,"v":21.908},{"p":"J","s":"Women","a":74,"v":21.859},{"p":"J","s":"Women","a":75,"v":21.746},{"p":"J","s":"Women","a":76,"v":21.881},{"p":"J","s":"Women","a":77,"v":21.823},{"p":"J","s":"Women","a":78,"v":21.829},{"p":"J","s":"Women","a":79,"v":21.671},
{"p":"K","s":"Men","a":47,"v":-1.322},{"p":"K","s":"Men","a":48,"v":-1.608},{"p":"K","s":"Men","a":49,"v":-1.747},{"p":"K","s":"Men","a":50,"v":-1.698},{"p":"K","s":"Men","a":51,"v":-1.597},{"p":"K","s":"Men","a":52,"v":-1.704},{"p":"K","s":"Men","a":53,"v":-1.707},{"p":"K","s":"Men","a":54,"v":-1.814},{"p":"K","s":"Men","a":55,"v":-1.904},{"p":"K","s":"Men","a":56,"v":-1.82},{"p":"K","s":"Men","a":57,"v":-1.647},{"p":"K","s":"Men","a":58,"v":-1.73},{"p":"K","s":"Men","a":59,"v":-1.791},{"p":"K","s":"Men","a":60,"v":-1.76},{"p":"K","s":"Men","a":61,"v":-1.834},{"p":"K","s":"Men","a":62,"v":-1.856},{"p":"K","s":"Men","a":63,"v":-1.8},{"p":"K","s":"Men","a":64,"v":-1.868},{"p":"K","s":"Men","a":65,"v":-1.868},{"p":"K","s":"Men","a":66,"v":-1.854},{"p":"K","s":"Men","a":67,"v":-1.811},{"p":"K","s":"Men","a":68,"v":-1.84},{"p":"K","s":"Men","a":69,"v":-1.879},{"p":"K","s":"Men","a":70,"v":-1.866},{"p":"K","s":"Men","a":71,"v":-1.93},{"p":"K","s":"Men","a":72,"v":-1.924},{"p":"K","s":"Men","a":73,"v":-1.924},{"p":"K","s":"Men","a":74,"v":-1.924},{"p":"K","s":"Men","a":75,"v":-1.904},{"p":"K","s":"Men","a":76,"v":-1.904},{"p":"K","s":"Men","a":77,"v":-2.037},{"p":"K","s":"Men","a":78,"v":-1.995},{"p":"K","s":"Men","a":79,"v":-2.066},
{"p":"K","s":"Women","a":47,"v":-2.094},{"p":"K","s":"Women","a":48,"v":-1.655},{"p":"K","s":"Women","a":49,"v":-1.958},{"p":"K","s":"Women","a":50,"v":-1.907},{"p":"K","s":"Women","a":51,"v":-2.024},{"p":"K","s":"Women","a":52,"v":-2.085},{"p":"K","s":"Women","a":53,"v":-2.015},{"p":"K","s":"Women","a":54,"v":-2.082},{"p":"K","s":"Women","a":55,"v":-2.111},{"p":"K","s":"Women","a":56,"v":-2.007},{"p":"K","s":"Women","a":57,"v":-1.977},{"p":"K","s":"Women","a":58,"v":-2.102},{"p":"K","s":"Women","a":59,"v":-2.111},{"p":"K","s":"Women","a":60,"v":-2.062},{"p":"K","s":"Women","a":61,"v":-1.981},{"p":"K","s":"Women","a":62,"v":-2.046},{"p":"K","s":"Women","a":63,"v":-2.066},{"p":"K","s":"Women","a":64,"v":-1.989},{"p":"K","s":"Women","a":65,"v":-2.092},{"p":"K","s":"Women","a":66,"v":-1.981},{"p":"K","s":"Women","a":67,"v":-2.04},{"p":"K","s":"Women","a":68,"v":-2.097},{"p":"K","s":"Women","a":69,"v":-2.156},{"p":"K","s":"Women","a":70,"v":-2.137},{"p":"K","s":"Women","a":71,"v":-2.156},{"p":"K","s":"Women","a":72,"v":-2.179},{"p":"K","s":"Women","a":73,"v":-2.148},{"p":"K","s":"Women","a":74,"v":-2.15},{"p":"K","s":"Women","a":75,"v":-2.235},{"p":"K","s":"Women","a":76,"v":-2.351},{"p":"K","s":"Women","a":77,"v":-2.133},{"p":"K","s":"Women","a":78,"v":-2.359},{"p":"K","s":"Women","a":79,"v":-2.421},
{"p":"L","s":"Men","a":47,"v":4.957},{"p":"L","s":"Men","a":48,"v":5.168},{"p":"L","s":"Men","a":49,"v":5.034},{"p":"L","s":"Men","a":50,"v":5.347},{"p":"L","s":"Men","a":51,"v":5.168},{"p":"L","s":"Men","a":52,"v":5.277},{"p":"L","s":"Men","a":53,"v":5.072},{"p":"L","s":"Men","a":54,"v":5.151},{"p":"L","s":"Men","a":55,"v":4.901},{"p":"L","s":"Men","a":56,"v":4.96},{"p":"L","s":"Men","a":57,"v":4.978},{"p":"L","s":"Men","a":58,"v":4.967},{"p":"L","s":"Men","a":59,"v":4.911},{"p":"L","s":"Men","a":60,"v":4.915},{"p":"L","s":"Men","a":61,"v":4.842},{"p":"L","s":"Men","a":62,"v":4.939},{"p":"L","s":"Men","a":63,"v":4.873},{"p":"L","s":"Men","a":64,"v":4.761},{"p":"L","s":"Men","a":65,"v":4.796},{"p":"L","s":"Men","a":66,"v":4.73},{"p":"L","s":"Men","a":67,"v":4.842},{"p":"L","s":"Men","a":68,"v":4.646},{"p":"L","s":"Men","a":69,"v":4.623},{"p":"L","s":"Men","a":70,"v":4.758},{"p":"L","s":"Men","a":71,"v":4.644},{"p":"L","s":"Men","a":72,"v":4.483},{"p":"L","s":"Men","a":73,"v":4.578},{"p":"L","s":"Men","a":74,"v":4.529},{"p":"L","s":"Men","a":75,"v":4.543},{"p":"L","s":"Men","a":76,"v":4.455},{"p":"L","s":"Men","a":77,"v":4.276},{"p":"L","s":"Men","a":78,"v":4.445},{"p":"L","s":"Men","a":79,"v":4.07},
{"p":"L","s":"Women","a":47,"v":4.936},{"p":"L","s":"Women","a":48,"v":5.312},{"p":"L","s":"Women","a":49,"v":4.765},{"p":"L","s":"Women","a":50,"v":4.611},{"p":"L","s":"Women","a":51,"v":4.641},{"p":"L","s":"Women","a":52,"v":4.611},{"p":"L","s":"Women","a":53,"v":4.599},{"p":"L","s":"Women","a":54,"v":4.646},{"p":"L","s":"Women","a":55,"v":4.632},{"p":"L","s":"Women","a":56,"v":4.646},{"p":"L","s":"Women","a":57,"v":4.588},{"p":"L","s":"Women","a":58,"v":4.476},{"p":"L","s":"Women","a":59,"v":4.653},{"p":"L","s":"Women","a":60,"v":4.491},{"p":"L","s":"Women","a":61,"v":4.588},{"p":"L","s":"Women","a":62,"v":4.526},{"p":"L","s":"Women","a":63,"v":4.459},{"p":"L","s":"Women","a":64,"v":4.599},{"p":"L","s":"Women","a":65,"v":4.48},{"p":"L","s":"Women","a":66,"v":4.522},{"p":"L","s":"Women","a":67,"v":4.582},{"p":"L","s":"Women","a":68,"v":4.361},{"p":"L","s":"Women","a":69,"v":4.47},{"p":"L","s":"Women","a":70,"v":4.62},{"p":"L","s":"Women","a":71,"v":4.54},{"p":"L","s":"Women","a":72,"v":4.319},{"p":"L","s":"Women","a":73,"v":4.365},{"p":"L","s":"Women","a":74,"v":4.463},{"p":"L","s":"Women","a":75,"v":4.227},{"p":"L","s":"Women","a":76,"v":4.519},{"p":"L","s":"Women","a":77,"v":4.484},{"p":"L","s":"Women","a":78,"v":4.392},{"p":"L","s":"Women","a":79,"v":4.171}
],
"fit":[
{"p":"A","s":"Women","a":47,"f":2.95,"lo":1.75,"hi":4.15},{"p":"A","s":"Women","a":55,"f":5.22,"lo":4.52,"hi":5.92},{"p":"A","s":"Women","a":63,"f":6.4,"lo":5.95,"hi":6.85},{"p":"A","s":"Women","a":71,"f":7.4,"lo":6.75,"hi":8.05},{"p":"A","s":"Women","a":79,"f":7.8,"lo":6.65,"hi":8.95},
{"p":"A","s":"Men","a":47,"f":-2.24,"lo":-3.44,"hi":-1.04},{"p":"A","s":"Men","a":55,"f":0.34,"lo":-0.36,"hi":1.04},{"p":"A","s":"Men","a":63,"f":2.33,"lo":1.88,"hi":2.78},{"p":"A","s":"Men","a":71,"f":4.28,"lo":3.63,"hi":4.93},{"p":"A","s":"Men","a":79,"f":5.78,"lo":4.63,"hi":6.93},
{"p":"B","s":"Men","a":47,"f":177.88,"lo":176.88,"hi":178.88},{"p":"B","s":"Men","a":55,"f":179.18,"lo":178.56,"hi":179.8},{"p":"B","s":"Men","a":63,"f":180.48,"lo":180.06,"hi":180.9},{"p":"B","s":"Men","a":71,"f":181.78,"lo":181.16,"hi":182.4},{"p":"B","s":"Men","a":79,"f":183.08,"lo":182.03,"hi":184.13},
{"p":"B","s":"Women","a":47,"f":176.77,"lo":175.77,"hi":177.77},{"p":"B","s":"Women","a":55,"f":178.05,"lo":177.43,"hi":178.67},{"p":"B","s":"Women","a":63,"f":179.34,"lo":178.92,"hi":179.76},{"p":"B","s":"Women","a":71,"f":180.62,"lo":180.0,"hi":181.24},{"p":"B","s":"Women","a":79,"f":181.9,"lo":180.9,"hi":182.9},
{"p":"C","s":"Women","a":47,"f":-163.0,"lo":-163.75,"hi":-162.25},{"p":"C","s":"Women","a":55,"f":-163.55,"lo":-164.05,"hi":-163.05},{"p":"C","s":"Women","a":63,"f":-164.3,"lo":-164.65,"hi":-163.95},{"p":"C","s":"Women","a":71,"f":-165.29,"lo":-165.84,"hi":-164.74},{"p":"C","s":"Women","a":79,"f":-166.52,"lo":-167.42,"hi":-165.62},
{"p":"C","s":"Men","a":47,"f":-164.15,"lo":-164.8,"hi":-163.5},{"p":"C","s":"Men","a":55,"f":-164.72,"lo":-165.14,"hi":-164.3},{"p":"C","s":"Men","a":63,"f":-165.5,"lo":-165.8,"hi":-165.2},{"p":"C","s":"Men","a":71,"f":-166.44,"lo":-166.86,"hi":-166.02},{"p":"C","s":"Men","a":79,"f":-167.63,"lo":-168.28,"hi":-166.98},
{"p":"D","s":"Men","a":47,"f":1430.7,"lo":1423.9,"hi":1437.5},{"p":"D","s":"Men","a":55,"f":1416.3,"lo":1412.1,"hi":1420.5},{"p":"D","s":"Men","a":63,"f":1401.85,"lo":1398.85,"hi":1404.85},{"p":"D","s":"Men","a":71,"f":1387.4,"lo":1383.2,"hi":1391.6},{"p":"D","s":"Men","a":79,"f":1373.0,"lo":1366.2,"hi":1379.8},
{"p":"D","s":"Women","a":47,"f":1389.1,"lo":1382.3,"hi":1395.9},{"p":"D","s":"Women","a":55,"f":1381.7,"lo":1377.5,"hi":1385.9},{"p":"D","s":"Women","a":63,"f":1374.3,"lo":1371.3,"hi":1377.3},{"p":"D","s":"Women","a":71,"f":1366.9,"lo":1362.7,"hi":1371.1},{"p":"D","s":"Women","a":79,"f":1359.5,"lo":1352.9,"hi":1366.1},
{"p":"E","s":"Women","a":47,"f":63.49,"lo":62.79,"hi":64.19},{"p":"E","s":"Women","a":55,"f":64.27,"lo":63.83,"hi":64.71},{"p":"E","s":"Women","a":63,"f":65.05,"lo":64.73,"hi":65.37},{"p":"E","s":"Women","a":71,"f":65.83,"lo":65.39,"hi":66.27},{"p":"E","s":"Women","a":79,"f":66.61,"lo":65.91,"hi":67.31},
{"p":"E","s":"Men","a":47,"f":61.89,"lo":61.19,"hi":62.59},{"p":"E","s":"Men","a":55,"f":62.68,"lo":62.24,"hi":63.12},{"p":"E","s":"Men","a":63,"f":63.47,"lo":63.15,"hi":63.79},{"p":"E","s":"Men","a":71,"f":64.26,"lo":63.82,"hi":64.7},{"p":"E","s":"Men","a":79,"f":65.05,"lo":64.35,"hi":65.75},
{"p":"F","s":"Men","a":47,"f":2.426,"lo":2.366,"hi":2.486},{"p":"F","s":"Men","a":55,"f":2.521,"lo":2.483,"hi":2.559},{"p":"F","s":"Men","a":63,"f":2.617,"lo":2.589,"hi":2.645},{"p":"F","s":"Men","a":71,"f":2.712,"lo":2.674,"hi":2.75},{"p":"F","s":"Men","a":79,"f":2.807,"lo":2.747,"hi":2.867},
{"p":"F","s":"Women","a":47,"f":2.332,"lo":2.272,"hi":2.392},{"p":"F","s":"Women","a":55,"f":2.426,"lo":2.388,"hi":2.464},{"p":"F","s":"Women","a":63,"f":2.521,"lo":2.493,"hi":2.549},{"p":"F","s":"Women","a":71,"f":2.615,"lo":2.577,"hi":2.653},{"p":"F","s":"Women","a":79,"f":2.709,"lo":2.649,"hi":2.769},
{"p":"G","s":"Men","a":47,"f":46.36,"lo":46.26,"hi":46.46},{"p":"G","s":"Men","a":55,"f":46.72,"lo":46.655,"hi":46.785},{"p":"G","s":"Men","a":63,"f":47.22,"lo":47.17,"hi":47.27},{"p":"G","s":"Men","a":71,"f":47.64,"lo":47.575,"hi":47.705},{"p":"G","s":"Men","a":79,"f":48.35,"lo":48.25,"hi":48.45},
{"p":"G","s":"Women","a":47,"f":45.26,"lo":45.16,"hi":45.36},{"p":"G","s":"Women","a":55,"f":45.63,"lo":45.565,"hi":45.695},{"p":"G","s":"Women","a":63,"f":46.03,"lo":45.98,"hi":46.08},{"p":"G","s":"Women","a":71,"f":46.62,"lo":46.555,"hi":46.685},{"p":"G","s":"Women","a":79,"f":47.26,"lo":47.16,"hi":47.36},
{"p":"H","s":"Men","a":47,"f":60.71,"lo":60.42,"hi":61.0},{"p":"H","s":"Men","a":55,"f":60.775,"lo":60.585,"hi":60.965},{"p":"H","s":"Men","a":63,"f":60.84,"lo":60.71,"hi":60.97},{"p":"H","s":"Men","a":71,"f":60.905,"lo":60.715,"hi":61.095},{"p":"H","s":"Men","a":79,"f":60.97,"lo":60.65,"hi":61.29},
{"p":"H","s":"Women","a":47,"f":59.24,"lo":58.95,"hi":59.53},{"p":"H","s":"Women","a":55,"f":59.38,"lo":59.19,"hi":59.57},{"p":"H","s":"Women","a":63,"f":59.57,"lo":59.44,"hi":59.7},{"p":"H","s":"Women","a":71,"f":59.8,"lo":59.61,"hi":59.99},{"p":"H","s":"Women","a":79,"f":60.06,"lo":59.73,"hi":60.39},
{"p":"I","s":"All","a":47,"f":35.16,"lo":34.79,"hi":35.52},{"p":"I","s":"All","a":51,"f":34.94,"lo":34.68,"hi":35.16},{"p":"I","s":"All","a":55,"f":34.75,"lo":34.57,"hi":34.93},{"p":"I","s":"All","a":59,"f":34.6,"lo":34.43,"hi":34.79},{"p":"I","s":"All","a":63,"f":34.51,"lo":34.34,"hi":34.71},{"p":"I","s":"All","a":67,"f":34.47,"lo":34.3,"hi":34.66},{"p":"I","s":"All","a":71,"f":34.48,"lo":34.3,"hi":34.66},{"p":"I","s":"All","a":75,"f":34.56,"lo":34.33,"hi":34.79},{"p":"I","s":"All","a":79,"f":34.69,"lo":34.32,"hi":35.05},
{"p":"J","s":"Men","a":47,"f":22.333,"lo":22.291,"hi":22.375},{"p":"J","s":"Men","a":55,"f":22.2685,"lo":22.2425,"hi":22.2945},{"p":"J","s":"Men","a":63,"f":22.204,"lo":22.186,"hi":22.222},{"p":"J","s":"Men","a":71,"f":22.1395,"lo":22.1135,"hi":22.1655},{"p":"J","s":"Men","a":79,"f":22.075,"lo":22.033,"hi":22.117},
{"p":"J","s":"Women","a":47,"f":21.944,"lo":21.902,"hi":21.986},{"p":"J","s":"Women","a":55,"f":21.907,"lo":21.881,"hi":21.933},{"p":"J","s":"Women","a":63,"f":21.8705,"lo":21.8525,"hi":21.8885},{"p":"J","s":"Women","a":71,"f":21.834,"lo":21.808,"hi":21.86},{"p":"J","s":"Women","a":79,"f":21.797,"lo":21.755,"hi":21.839},
{"p":"K","s":"Men","a":47,"f":-1.65,"lo":-1.696,"hi":-1.604},{"p":"K","s":"Men","a":55,"f":-1.721,"lo":-1.751,"hi":-1.691},{"p":"K","s":"Men","a":63,"f":-1.8,"lo":-1.822,"hi":-1.778},{"p":"K","s":"Men","a":71,"f":-1.899,"lo":-1.929,"hi":-1.869},{"p":"K","s":"Men","a":79,"f":-2.015,"lo":-2.062,"hi":-1.968},
{"p":"K","s":"Women","a":47,"f":-1.922,"lo":-1.967,"hi":-1.877},{"p":"K","s":"Women","a":55,"f":-1.992,"lo":-2.022,"hi":-1.962},{"p":"K","s":"Women","a":63,"f":-2.068,"lo":-2.09,"hi":-2.046},{"p":"K","s":"Women","a":71,"f":-2.156,"lo":-2.186,"hi":-2.126},{"p":"K","s":"Women","a":79,"f":-2.286,"lo":-2.336,"hi":-2.236},
{"p":"L","s":"Men","a":47,"f":5.245,"lo":5.157,"hi":5.333},{"p":"L","s":"Men","a":55,"f":5.026,"lo":4.971,"hi":5.081},{"p":"L","s":"Men","a":63,"f":4.8065,"lo":4.7665,"hi":4.8465},{"p":"L","s":"Men","a":71,"f":4.587,"lo":4.532,"hi":4.642},{"p":"L","s":"Men","a":79,"f":4.368,"lo":4.278,"hi":4.458},
{"p":"L","s":"Women","a":47,"f":4.796,"lo":4.708,"hi":4.884},{"p":"L","s":"Women","a":55,"f":4.675,"lo":4.62,"hi":4.73},{"p":"L","s":"Women","a":63,"f":4.554,"lo":4.514,"hi":4.594},{"p":"L","s":"Women","a":71,"f":4.433,"lo":4.378,"hi":4.488},{"p":"L","s":"Women","a":79,"f":4.312,"lo":4.224,"hi":4.4}
],
"sig":[
{"p":"A","a":50},{"p":"A","a":51},{"p":"A","a":52},{"p":"A","a":53},{"p":"A","a":54},{"p":"A","a":55},{"p":"A","a":56},{"p":"A","a":57},{"p":"A","a":58},{"p":"A","a":59},{"p":"A","a":60},{"p":"A","a":62},{"p":"A","a":63},{"p":"A","a":65},{"p":"A","a":66},{"p":"A","a":67},{"p":"A","a":68},{"p":"A","a":69},{"p":"A","a":70},{"p":"A","a":71},{"p":"A","a":75},
{"p":"B","a":61},{"p":"C","a":61},
{"p":"D","a":49},{"p":"D","a":50},{"p":"D","a":51},{"p":"D","a":52},{"p":"D","a":53},{"p":"D","a":54},{"p":"D","a":55},{"p":"D","a":56},{"p":"D","a":57},{"p":"D","a":58},{"p":"D","a":59},{"p":"D","a":60},{"p":"D","a":61},{"p":"D","a":62},{"p":"D","a":63},{"p":"D","a":65},{"p":"D","a":66},{"p":"D","a":67},{"p":"D","a":68},{"p":"D","a":69},{"p":"D","a":70},{"p":"D","a":75},
{"p":"E","a":76},{"p":"F","a":71},
{"p":"G","a":49},{"p":"G","a":50},{"p":"G","a":51},{"p":"G","a":52},{"p":"G","a":53},{"p":"G","a":54},{"p":"G","a":55},{"p":"G","a":56},{"p":"G","a":58},{"p":"G","a":59},{"p":"G","a":60},{"p":"G","a":61},{"p":"G","a":62},{"p":"G","a":63},{"p":"G","a":64},{"p":"G","a":65},{"p":"G","a":66},{"p":"G","a":67},{"p":"G","a":68},{"p":"G","a":69},{"p":"G","a":70},{"p":"G","a":71},{"p":"G","a":72},{"p":"G","a":73},{"p":"G","a":74},{"p":"G","a":75},{"p":"G","a":76},{"p":"G","a":77},
{"p":"H","a":50},{"p":"H","a":51},{"p":"H","a":52},{"p":"H","a":53},{"p":"H","a":54},{"p":"H","a":55},{"p":"H","a":56},{"p":"H","a":57},{"p":"H","a":58},{"p":"H","a":59},{"p":"H","a":60},{"p":"H","a":61},{"p":"H","a":62},{"p":"H","a":63},{"p":"H","a":64},{"p":"H","a":65},{"p":"H","a":66},{"p":"H","a":67},{"p":"H","a":68},{"p":"H","a":69},{"p":"H","a":71},{"p":"H","a":72},{"p":"H","a":73},{"p":"H","a":75},
{"p":"J","a":49},{"p":"J","a":50},{"p":"J","a":51},{"p":"J","a":52},{"p":"J","a":53},{"p":"J","a":54},{"p":"J","a":55},{"p":"J","a":56},{"p":"J","a":57},{"p":"J","a":58},{"p":"J","a":59},{"p":"J","a":60},{"p":"J","a":61},{"p":"J","a":62},{"p":"J","a":63},{"p":"J","a":64},{"p":"J","a":65},{"p":"J","a":66},{"p":"J","a":67},{"p":"J","a":68},{"p":"J","a":69},{"p":"J","a":70},{"p":"J","a":71},{"p":"J","a":72},{"p":"J","a":73},{"p":"J","a":74},{"p":"J","a":75},{"p":"J","a":76},{"p":"J","a":77},{"p":"J","a":78},{"p":"J","a":79},
{"p":"K","a":47},{"p":"K","a":50},{"p":"K","a":51},{"p":"K","a":52},{"p":"K","a":53},{"p":"K","a":54},{"p":"K","a":55},{"p":"K","a":56},{"p":"K","a":57},{"p":"K","a":58},{"p":"K","a":59},{"p":"K","a":60},{"p":"K","a":61},{"p":"K","a":62},{"p":"K","a":63},{"p":"K","a":65},{"p":"K","a":66},{"p":"K","a":67},{"p":"K","a":68},{"p":"K","a":69},{"p":"K","a":70},{"p":"K","a":71},{"p":"K","a":72},{"p":"K","a":73},{"p":"K","a":74},{"p":"K","a":75},{"p":"K","a":76},{"p":"K","a":78},{"p":"K","a":79},
{"p":"L","a":50},{"p":"L","a":51},{"p":"L","a":52},{"p":"L","a":53},{"p":"L","a":54},{"p":"L","a":56},{"p":"L","a":57},{"p":"L","a":58},{"p":"L","a":60},{"p":"L","a":62},{"p":"L","a":63},{"p":"L","a":65},{"p":"L","a":67},{"p":"L","a":68}
]
},
"spacing":129,
"vconcat":[
{"title":{"text":"Simple Connectivity measures","fontSize":56,"font":"Lato","fontWeight":"normal","color":"#000","anchor":"middle","offset":26,"dx":-12},
 "bounds":"flush","spacing":327,
 "hconcat":[
 {"width":343,"height":366,"title":{"text":"A)","anchor":"start","frame":"group","dx":-112,"dy":73,"baseline":"alphabetic","fontSize":52,"font":"Lato","fontWeight":"normal","color":"#000"},
  "layer":[
   {"data":{"name":"fit"},"transform":[{"filter":"datum.p=='A'"}],"mark":{"type":"area","interpolate":"monotone","opacity":0.42},"encoding":{"x":{"field":"a","type":"quantitative"},"y":{"field":"lo","type":"quantitative"},"y2":{"field":"hi"},"fill":{"field":"s","type":"nominal","scale":{"domain":["Women","Men"],"range":["#e87878","#6f6fd0"]},"legend":null}}},
   {"data":{"name":"fit"},"transform":[{"filter":"datum.p=='A'"}],"mark":{"type":"line","interpolate":"monotone","strokeWidth":3},"encoding":{"x":{"field":"a","type":"quantitative"},"y":{"field":"f","type":"quantitative"},"color":{"field":"s","type":"nominal","scale":{"domain":["Men","Women"],"range":["#14148c","#e0161b"]},"legend":{"title":null,"symbolType":"stroke","orient":"none","legendX":1010,"legendY":1790,"direction":"horizontal"}}}},
   {"data":{"name":"pts"},"transform":[{"filter":"datum.p=='A' && datum.s=='Men'"}],"mark":{"type":"circle","size":110,"opacity":1,"color":"#14148c"},"encoding":{"x":{"field":"a","type":"quantitative","scale":{"domain":[45,83],"nice":false,"zero":false},"axis":{"values":[50,55,60,65,70,75,80],"title":null}},"y":{"field":"v","type":"quantitative","scale":{"domain":[-6,12.93],"nice":false,"zero":false},"axis":{"values":[-3,0,3,6,9],"title":["Average whole","brain connectivity"]}}}},
   {"data":{"name":"pts"},"transform":[{"filter":"datum.p=='A' && datum.s=='Women'"}],"mark":{"type":"circle","size":110,"opacity":1,"color":"#e0161b"},"encoding":{"x":{"field":"a","type":"quantitative"},"y":{"field":"v","type":"quantitative"}}},
   {"data":{"name":"sig"},"transform":[{"filter":"datum.p=='A'"}],"mark":{"type":"text","text":"*","font":"Liberation Sans","fontSize":23,"color":"#333","baseline":"middle"},"encoding":{"x":{"field":"a","type":"quantitative"},"y":{"datum":11.33}}},
   {"data":{"values":[{}]},"mark":{"type":"text","text":"Y ~ 1 + Age² + Age*Sex","font":"Lato","fontStyle":"italic","fontSize":29,"align":"center","baseline":"alphabetic","color":"#111"},"encoding":{"x":{"datum":64.6},"y":{"datum":12.15}}},
   {"data":{"values":[{}]},"mark":{"type":"point","shape":"triangle-right","filled":true,"size":200,"color":"#000","opacity":1},"encoding":{"x":{"datum":82.1},"y":{"datum":-6}}},
   {"data":{"values":[{}]},"mark":{"type":"point","shape":"triangle-up","filled":true,"size":200,"color":"#000","opacity":1},"encoding":{"x":{"datum":45},"y":{"datum":12.52}}}
  ]},
 {"width":343,"height":366,"title":{"text":"B)","anchor":"start","frame":"group","dx":-112,"dy":73,"baseline":"alphabetic","fontSize":52,"font":"Lato","fontWeight":"normal","color":"#000"},
  "layer":[
   {"data":{"name":"fit"},"transform":[{"filter":"datum.p=='B'"}],"mark":{"type":"area","interpolate":"monotone","opacity":0.42},"encoding":{"x":{"field":"a","type":"quantitative"},"y":{"field":"lo","type":"quantitative"},"y2":{"field":"hi"},"fill":{"field":"s","type":"nominal","scale":{"domain":["Women","Men"],"range":["#e87878","#6f6fd0"]},"legend":null}}},
   {"data":{"name":"fit"},"transform":[{"filter":"datum.p=='B'"}],"mark":{"type":"line","interpolate":"monotone","strokeWidth":3},"encoding":{"x":{"field":"a","type":"quantitative"},"y":{"field":"f","type":"quantitative"},"color":{"field":"s","type":"nominal","scale":{"domain":["Men","Women"],"range":["#14148c","#e0161b"]},"legend":{"title":null,"symbolType":"stroke","orient":"none","legendX":1010,"legendY":1790,"direction":"horizontal"}}}},
   {"data":{"name":"pts"},"transform":[{"filter":"datum.p=='B' && datum.s=='Men'"}],"mark":{"type":"circle","size":110,"opacity":1,"color":"#14148c"},"encoding":{"x":{"field":"a","type":"quantitative","scale":{"domain":[45,83],"nice":false,"zero":false},"axis":{"values":[50,55,60,65,70,75,80],"title":null}},"y":{"field":"v","type":"quantitative","scale":{"domain":[172.04,187.89],"nice":false,"zero":false},"axis":{"values":[174,178,182,186],"labelExpr":"datum.value == 186 ? '184' : datum.label","title":["Average negative","connectivity"]}}}},
   {"data":{"name":"pts"},"transform":[{"filter":"datum.p=='B' && datum.s=='Women'"}],"mark":{"type":"circle","size":110,"opacity":1,"color":"#e0161b"},"encoding":{"x":{"field":"a","type":"quantitative"},"y":{"field":"v","type":"quantitative"}}},
   {"data":{"name":"sig"},"transform":[{"filter":"datum.p=='B'"}],"mark":{"type":"text","text":"*","font":"Liberation Sans","fontSize":23,"color":"#333","baseline":"middle"},"encoding":{"x":{"field":"a","type":"quantitative"},"y":{"datum":186.55}}},
   {"data":{"values":[{}]},"mark":{"type":"text","text":"Y ~ 1 + Age + Sex","font":"Lato","fontStyle":"italic","fontSize":29,"align":"center","baseline":"alphabetic","color":"#111"},"encoding":{"x":{"datum":64.6},"y":{"datum":187.46}}},
   {"data":{"values":[{}]},"mark":{"type":"point","shape":"triangle-right","filled":true,"size":200,"color":"#000","opacity":1},"encoding":{"x":{"datum":82.1},"y":{"datum":172.04}}},
   {"data":{"values":[{}]},"mark":{"type":"point","shape":"triangle-up","filled":true,"size":200,"color":"#000","opacity":1},"encoding":{"x":{"datum":45},"y":{"datum":187.54}}}
  ]},
 {"width":343,"height":366,"title":{"text":"C)","anchor":"start","frame":"group","dx":-112,"dy":73,"baseline":"alphabetic","fontSize":52,"font":"Lato","fontWeight":"normal","color":"#000"},
  "layer":[
   {"data":{"name":"fit"},"transform":[{"filter":"datum.p=='C'"}],"mark":{"type":"area","interpolate":"monotone","opacity":0.42},"encoding":{"x":{"field":"a","type":"quantitative"},"y":{"field":"lo","type":"quantitative"},"y2":{"field":"hi"},"fill":{"field":"s","type":"nominal","scale":{"domain":["Women","Men"],"range":["#e87878","#6f6fd0"]},"legend":null}}},
   {"data":{"name":"fit"},"transform":[{"filter":"datum.p=='C'"}],"mark":{"type":"line","interpolate":"monotone","strokeWidth":3},"encoding":{"x":{"field":"a","type":"quantitative"},"y":{"field":"f","type":"quantitative"},"color":{"field":"s","type":"nominal","scale":{"domain":["Men","Women"],"range":["#14148c","#e0161b"]},"legend":{"title":null,"symbolType":"stroke","orient":"none","legendX":1010,"legendY":1790,"direction":"horizontal"}}}},
   {"data":{"name":"pts"},"transform":[{"filter":"datum.p=='C' && datum.s=='Men'"}],"mark":{"type":"circle","size":110,"opacity":1,"color":"#14148c"},"encoding":{"x":{"field":"a","type":"quantitative","scale":{"domain":[45,83],"nice":false,"zero":false},"axis":{"values":[50,55,60,65,70,75,80],"title":null}},"y":{"field":"v","type":"quantitative","scale":{"domain":[-174.01,-156.06],"nice":false,"zero":false},"axis":{"values":[-171,-168,-165,-162,-159],"title":["Average positive","connectivity"]}}}},
   {"data":{"name":"pts"},"transform":[{"filter":"datum.p=='C' && datum.s=='Women'"}],"mark":{"type":"circle","size":110,"opacity":1,"color":"#e0161b"},"encoding":{"x":{"field":"a","type":"quantitative"},"y":{"field":"v","type":"quantitative"}}},
   {"data":{"name":"sig"},"transform":[{"filter":"datum.p=='C'"}],"mark":{"type":"text","text":"*","font":"Liberation Sans","fontSize":23,"color":"#333","baseline":"middle"},"encoding":{"x":{"field":"a","type":"quantitative"},"y":{"datum":-157.58}}},
   {"data":{"values":[{}]},"mark":{"type":"text","text":"Y ~ 1 + Age² + Sex","font":"Lato","fontStyle":"italic","fontSize":29,"align":"center","baseline":"alphabetic","color":"#111"},"encoding":{"x":{"datum":64.6},"y":{"datum":-156.8}}},
   {"data":{"values":[{}]},"mark":{"type":"point","shape":"triangle-right","filled":true,"size":200,"color":"#000","opacity":1},"encoding":{"x":{"datum":82.1},"y":{"datum":-174.01}}},
   {"data":{"values":[{}]},"mark":{"type":"point","shape":"triangle-up","filled":true,"size":200,"color":"#000","opacity":1},"encoding":{"x":{"datum":45},"y":{"datum":-156.45}}}
  ]},
 {"width":343,"height":366,"title":{"text":"D)","anchor":"start","frame":"group","dx":-112,"dy":73,"baseline":"alphabetic","fontSize":52,"font":"Lato","fontWeight":"normal","color":"#000"},
  "layer":[
   {"data":{"name":"fit"},"transform":[{"filter":"datum.p=='D'"}],"mark":{"type":"area","interpolate":"monotone","opacity":0.42},"encoding":{"x":{"field":"a","type":"quantitative"},"y":{"field":"lo","type":"quantitative"},"y2":{"field":"hi"},"fill":{"field":"s","type":"nominal","scale":{"domain":["Women","Men"],"range":["#e87878","#6f6fd0"]},"legend":null}}},
   {"data":{"name":"fit"},"transform":[{"filter":"datum.p=='D'"}],"mark":{"type":"line","interpolate":"monotone","strokeWidth":3},"encoding":{"x":{"field":"a","type":"quantitative"},"y":{"field":"f","type":"quantitative"},"color":{"field":"s","type":"nominal","scale":{"domain":["Men","Women"],"range":["#14148c","#e0161b"]},"legend":{"title":null,"symbolType":"stroke","orient":"none","legendX":1010,"legendY":1790,"direction":"horizontal"}}}},
   {"data":{"name":"pts"},"transform":[{"filter":"datum.p=='D' && datum.s=='Men'"}],"mark":{"type":"circle","size":110,"opacity":1,"color":"#14148c"},"encoding":{"x":{"field":"a","type":"quantitative","scale":{"domain":[45,83],"nice":false,"zero":false},"axis":{"values":[50,55,60,65,70,75,80],"title":null}},"y":{"field":"v","type":"quantitative","scale":{"domain":[1330.4,1459.25],"nice":false,"zero":false},"axis":{"values":[1340,1370,1400,1430],"format":"d","title":["Number of negative","connections"]}}}},
   {"data":{"name":"pts"},"transform":[{"filter":"datum.p=='D' && datum.s=='Women'"}],"mark":{"type":"circle","size":110,"opacity":1,"color":"#e0161b"},"encoding":{"x":{"field":"a","type":"quantitative"},"y":{"field":"v","type":"quantitative"}}},
   {"data":{"name":"sig"},"transform":[{"filter":"datum.p=='D'"}],"mark":{"type":"text","text":"*","font":"Liberation Sans","fontSize":23,"color":"#333","baseline":"middle"},"encoding":{"x":{"field":"a","type":"quantitative"},"y":{"datum":1448.34}}},
   {"data":{"values":[{}]},"mark":{"type":"text","text":"Y ~ 1 + Age*Sex","font":"Lato","fontStyle":"italic","fontSize":29,"align":"center","baseline":"alphabetic","color":"#111"},"encoding":{"x":{"datum":64.6},"y":{"datum":1455.73}}},
   {"data":{"values":[{}]},"mark":{"type":"point","shape":"triangle-right","filled":true,"size":200,"color":"#000","opacity":1},"encoding":{"x":{"datum":82.1},"y":{"datum":1330.4}}},
   {"data":{"values":[{}]},"mark":{"type":"point","shape":"triangle-up","filled":true,"size":200,"color":"#000","opacity":1},"encoding":{"x":{"datum":45},"y":{"datum":1456.43}}}
  ]}
 ]},
{"title":{"text":"Single-layer topological measures","fontSize":56,"font":"Lato","fontWeight":"normal","color":"#000","anchor":"middle","offset":32,"dx":-12},
 "bounds":"flush","spacing":327,
 "hconcat":[
 {"width":343,"height":366,"title":{"text":"E)","anchor":"start","frame":"group","dx":-112,"dy":73,"baseline":"alphabetic","fontSize":52,"font":"Lato","fontWeight":"normal","color":"#000"},
  "layer":[
   {"data":{"name":"fit"},"transform":[{"filter":"datum.p=='E'"}],"mark":{"type":"area","interpolate":"monotone","opacity":0.42},"encoding":{"x":{"field":"a","type":"quantitative"},"y":{"field":"lo","type":"quantitative"},"y2":{"field":"hi"},"fill":{"field":"s","type":"nominal","scale":{"domain":["Women","Men"],"range":["#e87878","#6f6fd0"]},"legend":null}}},
   {"data":{"name":"fit"},"transform":[{"filter":"datum.p=='E'"}],"mark":{"type":"line","interpolate":"monotone","strokeWidth":3},"encoding":{"x":{"field":"a","type":"quantitative"},"y":{"field":"f","type":"quantitative"},"color":{"field":"s","type":"nominal","scale":{"domain":["Men","Women"],"range":["#14148c","#e0161b"]},"legend":{"title":null,"symbolType":"stroke","orient":"none","legendX":1010,"legendY":1790,"direction":"horizontal"}}}},
   {"data":{"name":"pts"},"transform":[{"filter":"datum.p=='E' && datum.s=='Men'"}],"mark":{"type":"circle","size":110,"opacity":1,"color":"#14148c"},"encoding":{"x":{"field":"a","type":"quantitative","scale":{"domain":[45,83],"nice":false,"zero":false},"axis":{"values":[50,55,60,65,70,75,80],"title":null}},"y":{"field":"v","type":"quantitative","scale":{"domain":[58.99,70.95],"nice":false,"zero":false},"axis":{"values":[60,62,64,66,68,70],"title":["Clustering coefficient","positive network"]}}}},
   {"data":{"name":"pts"},"transform":[{"filter":"datum.p=='E' && datum.s=='Women'"}],"mark":{"type":"circle","size":110,"opacity":1,"color":"#e0161b"},"encoding":{"x":{"field":"a","type":"quantitative"},"y":{"field":"v","type":"quantitative"}}},
   {"data":{"name":"sig"},"transform":[{"filter":"datum.p=='E'"}],"mark":{"type":"text","text":"*","font":"Liberation Sans","fontSize":23,"color":"#333","baseline":"middle"},"encoding":{"x":{"field":"a","type":"quantitative"},"y":{"datum":69.94}}},
   {"data":{"values":[{}]},"mark":{"type":"text","text":"Y ~ 1 + Age + Sex","font":"Lato","fontStyle":"italic","fontSize":29,"align":"center","baseline":"alphabetic","color":"#111"},"encoding":{"x":{"datum":64.6},"y":{"datum":70.62}}},
   {"data":{"values":[{}]},"mark":{"type":"point","shape":"triangle-right","filled":true,"size":200,"color":"#000","opacity":1},"encoding":{"x":{"datum":82.1},"y":{"datum":58.99}}},
   {"data":{"values":[{}]},"mark":{"type":"point","shape":"triangle-up","filled":true,"size":200,"color":"#000","opacity":1},"encoding":{"x":{"datum":45},"y":{"datum":70.69}}}
  ]},
 {"width":343,"height":366,"title":{"text":"F)","anchor":"start","frame":"group","dx":-112,"dy":73,"baseline":"alphabetic","fontSize":52,"font":"Lato","fontWeight":"normal","color":"#000"},
  "layer":[
   {"data":{"name":"fit"},"transform":[{"filter":"datum.p=='F'"}],"mark":{"type":"area","interpolate":"monotone","opacity":0.42},"encoding":{"x":{"field":"a","type":"quantitative"},"y":{"field":"lo","type":"quantitative"},"y2":{"field":"hi"},"fill":{"field":"s","type":"nominal","scale":{"domain":["Women","Men"],"range":["#e87878","#6f6fd0"]},"legend":null}}},
   {"data":{"name":"fit"},"transform":[{"filter":"datum.p=='F'"}],"mark":{"type":"line","interpolate":"monotone","strokeWidth":3},"encoding":{"x":{"field":"a","type":"quantitative"},"y":{"field":"f","type":"quantitative"},"color":{"field":"s","type":"nominal","scale":{"domain":["Men","Women"],"range":["#14148c","#e0161b"]},"legend":{"title":null,"symbolType":"stroke","orient":"none","legendX":1010,"legendY":1790,"direction":"horizontal"}}}},
   {"data":{"name":"pts"},"transform":[{"filter":"datum.p=='F' && datum.s=='Men'"}],"mark":{"type":"circle","size":110,"opacity":1,"color":"#14148c"},"encoding":{"x":{"field":"a","type":"quantitative","scale":{"domain":[45,83],"nice":false,"zero":false},"axis":{"values":[50,55,60,65,70,75,80],"title":null}},"y":{"field":"v","type":"quantitative","scale":{"domain":[2.0,3.094],"nice":false,"zero":false},"axis":{"values":[2.2,2.4,2.6,2.8,3.0],"format":".1f","title":["Clustering coefficient","negative network"]}}}},
   {"data":{"name":"pts"},"transform":[{"filter":"datum.p=='F' && datum.s=='Women'"}],"mark":{"type":"circle","size":110,"opacity":1,"color":"#e0161b"},"encoding":{"x":{"field":"a","type":"quantitative"},"y":{"field":"v","type":"quantitative"}}},
   {"data":{"name":"sig"},"transform":[{"filter":"datum.p=='F'"}],"mark":{"type":"text","text":"*","font":"Liberation Sans","fontSize":23,"color":"#333","baseline":"middle"},"encoding":{"x":{"field":"a","type":"quantitative"},"y":{"datum":3.001}}},
   {"data":{"values":[{}]},"mark":{"type":"text","text":"Y ~ 1 + Age + Sex","font":"Lato","fontStyle":"italic","fontSize":29,"align":"center","baseline":"alphabetic","color":"#111"},"encoding":{"x":{"datum":64.6},"y":{"datum":3.064}}},
   {"data":{"values":[{}]},"mark":{"type":"point","shape":"triangle-right","filled":true,"size":200,"color":"#000","opacity":1},"encoding":{"x":{"datum":82.1},"y":{"datum":2.0}}},
   {"data":{"values":[{}]},"mark":{"type":"point","shape":"triangle-up","filled":true,"size":200,"color":"#000","opacity":1},"encoding":{"x":{"datum":45},"y":{"datum":3.07}}}
  ]},
 {"width":343,"height":366,"title":{"text":"G)","anchor":"start","frame":"group","dx":-112,"dy":73,"baseline":"alphabetic","fontSize":52,"font":"Lato","fontWeight":"normal","color":"#000"},
  "layer":[
   {"data":{"name":"fit"},"transform":[{"filter":"datum.p=='G'"}],"mark":{"type":"area","interpolate":"monotone","opacity":0.42},"encoding":{"x":{"field":"a","type":"quantitative"},"y":{"field":"lo","type":"quantitative"},"y2":{"field":"hi"},"fill":{"field":"s","type":"nominal","scale":{"domain":["Women","Men"],"range":["#e87878","#6f6fd0"]},"legend":null}}},
   {"data":{"name":"fit"},"transform":[{"filter":"datum.p=='G'"}],"mark":{"type":"line","interpolate":"monotone","strokeWidth":3},"encoding":{"x":{"field":"a","type":"quantitative"},"y":{"field":"f","type":"quantitative"},"color":{"field":"s","type":"nominal","scale":{"domain":["Men","Women"],"range":["#14148c","#e0161b"]},"legend":{"title":null,"symbolType":"stroke","orient":"none","legendX":1010,"legendY":1790,"direction":"horizontal"}}}},
   {"data":{"name":"pts"},"transform":[{"filter":"datum.p=='G' && datum.s=='Men'"}],"mark":{"type":"circle","size":110,"opacity":1,"color":"#14148c"},"encoding":{"x":{"field":"a","type":"quantitative","scale":{"domain":[45,83],"nice":false,"zero":false},"axis":{"values":[50,55,60,65,70,75,80],"title":null}},"y":{"field":"v","type":"quantitative","scale":{"domain":[44.52,49.46],"nice":false,"zero":false},"axis":{"values":[45.5,46.5,47.5,48.5],"format":".1f","title":["Global efficiency","positive network"]}}}},
   {"data":{"name":"pts"},"transform":[{"filter":"datum.p=='G' && datum.s=='Women'"}],"mark":{"type":"circle","size":110,"opacity":1,"color":"#e0161b"},"encoding":{"x":{"field":"a","type":"quantitative"},"y":{"field":"v","type":"quantitative"}}},
   {"data":{"name":"sig"},"transform":[{"filter":"datum.p=='G'"}],"mark":{"type":"text","text":"*","font":"Liberation Sans","fontSize":23,"color":"#333","baseline":"middle"},"encoding":{"x":{"field":"a","type":"quantitative"},"y":{"datum":49.04}}},
   {"data":{"values":[{}]},"mark":{"type":"text","text":"Y ~ 1 + Age² + Sex","font":"Lato","fontStyle":"italic","fontSize":29,"align":"center","baseline":"alphabetic","color":"#111"},"encoding":{"x":{"datum":64.6},"y":{"datum":49.26}}},
   {"data":{"values":[{}]},"mark":{"type":"point","shape":"triangle-right","filled":true,"size":200,"color":"#000","opacity":1},"encoding":{"x":{"datum":82.1},"y":{"datum":44.52}}},
   {"data":{"values":[{}]},"mark":{"type":"point","shape":"triangle-up","filled":true,"size":200,"color":"#000","opacity":1},"encoding":{"x":{"datum":45},"y":{"datum":49.35}}}
  ]},
 {"width":343,"height":366,"title":{"text":"H)","anchor":"start","frame":"group","dx":-112,"dy":73,"baseline":"alphabetic","fontSize":52,"font":"Lato","fontWeight":"normal","color":"#000"},
  "layer":[
   {"data":{"name":"fit"},"transform":[{"filter":"datum.p=='H'"}],"mark":{"type":"area","interpolate":"monotone","opacity":0.42},"encoding":{"x":{"field":"a","type":"quantitative"},"y":{"field":"lo","type":"quantitative"},"y2":{"field":"hi"},"fill":{"field":"s","type":"nominal","scale":{"domain":["Women","Men"],"range":["#e87878","#6f6fd0"]},"legend":null}}},
   {"data":{"name":"fit"},"transform":[{"filter":"datum.p=='H'"}],"mark":{"type":"line","interpolate":"monotone","strokeWidth":3},"encoding":{"x":{"field":"a","type":"quantitative"},"y":{"field":"f","type":"quantitative"},"color":{"field":"s","type":"nominal","scale":{"domain":["Men","Women"],"range":["#14148c","#e0161b"]},"legend":{"title":null,"symbolType":"stroke","orient":"none","legendX":1010,"legendY":1790,"direction":"horizontal"}}}},
   {"data":{"name":"pts"},"transform":[{"filter":"datum.p=='H' && datum.s=='Men'"}],"mark":{"type":"circle","size":110,"opacity":1,"color":"#14148c"},"encoding":{"x":{"field":"a","type":"quantitative","scale":{"domain":[45,83],"nice":false,"zero":false},"axis":{"values":[50,55,60,65,70,75,80],"title":null}},"y":{"field":"v","type":"quantitative","scale":{"domain":[58.5,61.98],"nice":false,"zero":false},"axis":{"values":[59,59.5,60,60.5,61,61.5],"format":".1~f","title":["Global efficiency","negative network"]}}}},
   {"data":{"name":"pts"},"transform":[{"filter":"datum.p=='H' && datum.s=='Women'"}],"mark":{"type":"circle","size":110,"opacity":1,"color":"#e0161b"},"encoding":{"x":{"field":"a","type":"quantitative"},"y":{"field":"v","type":"quantitative"}}},
   {"data":{"name":"sig"},"transform":[{"filter":"datum.p=='H'"}],"mark":{"type":"text","text":"*","font":"Liberation Sans","fontSize":23,"color":"#333","baseline":"middle"},"encoding":{"x":{"field":"a","type":"quantitative"},"y":{"datum":61.69}}},
   {"data":{"values":[{}]},"mark":{"type":"text","text":"Y ~ 1 + Age² + Sex","font":"Lato","fontStyle":"italic","fontSize":29,"align":"center","baseline":"alphabetic","color":"#111"},"encoding":{"x":{"datum":64.6},"y":{"datum":61.84}}},
   {"data":{"values":[{}]},"mark":{"type":"point","shape":"triangle-right","filled":true,"size":200,"color":"#000","opacity":1},"encoding":{"x":{"datum":82.1},"y":{"datum":58.5}}},
   {"data":{"values":[{}]},"mark":{"type":"point","shape":"triangle-up","filled":true,"size":200,"color":"#000","opacity":1},"encoding":{"x":{"datum":45},"y":{"datum":61.9}}}
  ]}
 ]},
{"title":{"text":"Multilayer topological measures","fontSize":56,"font":"Lato","fontWeight":"normal","color":"#000","anchor":"middle","offset":32,"dx":-12},
 "bounds":"flush","spacing":327,
 "hconcat":[
 {"width":343,"height":366,"title":{"text":"I)","anchor":"start","frame":"group","dx":-112,"dy":73,"baseline":"alphabetic","fontSize":52,"font":"Lato","fontWeight":"normal","color":"#000"},
  "layer":[
   {"data":{"name":"fit"},"transform":[{"filter":"datum.p=='I'"}],"mark":{"type":"area","interpolate":"monotone","color":"#d3a5c7","opacity":0.9},"encoding":{"x":{"field":"a","type":"quantitative"},"y":{"field":"lo","type":"quantitative"},"y2":{"field":"hi"}}},
   {"data":{"name":"fit"},"transform":[{"filter":"datum.p=='I'"}],"mark":{"type":"line","interpolate":"monotone","strokeWidth":3.5,"color":"#6c1f8f"},"encoding":{"x":{"field":"a","type":"quantitative"},"y":{"field":"f","type":"quantitative"}}},
   {"data":{"name":"pts"},"transform":[{"filter":"datum.p=='I' && datum.s=='Men'"}],"mark":{"type":"circle","size":110,"opacity":1,"color":"#14148c"},"encoding":{"x":{"field":"a","type":"quantitative","scale":{"domain":[45,83],"nice":false,"zero":false},"axis":{"values":[50,55,60,65,70,75,80],"title":"Age (years)"}},"y":{"field":"v","type":"quantitative","scale":{"domain":[33.2,36.58],"nice":false,"zero":false},"axis":{"values":[33.5,34,34.5,35,35.5,36],"format":".1~f","title":["Multiplex participation","coefficient"]}}}},
   {"data":{"name":"pts"},"transform":[{"filter":"datum.p=='I' && datum.s=='Women'"}],"mark":{"type":"circle","size":110,"opacity":1,"color":"#e0161b"},"encoding":{"x":{"field":"a","type":"quantitative"},"y":{"field":"v","type":"quantitative"}}},
   {"data":{"values":[{}]},"mark":{"type":"text","text":"Y ~ 1 + Age + Age²","font":"Lato","fontStyle":"italic","fontSize":29,"align":"center","baseline":"alphabetic","color":"#111"},"encoding":{"x":{"datum":64.6},"y":{"datum":36.44}}},
   {"data":{"values":[{}]},"mark":{"type":"point","shape":"triangle-right","filled":true,"size":200,"color":"#000","opacity":1},"encoding":{"x":{"datum":82.1},"y":{"datum":33.2}}},
   {"data":{"values":[{}]},"mark":{"type":"point","shape":"triangle-up","filled":true,"size":200,"color":"#000","opacity":1},"encoding":{"x":{"datum":45},"y":{"datum":36.51}}}
  ]},
 {"width":343,"height":366,"title":{"text":"J)","anchor":"start","frame":"group","dx":-112,"dy":73,"baseline":"alphabetic","fontSize":52,"font":"Lato","fontWeight":"normal","color":"#000"},
  "layer":[
   {"data":{"name":"fit"},"transform":[{"filter":"datum.p=='J'"}],"mark":{"type":"area","interpolate":"monotone","opacity":0.42},"encoding":{"x":{"field":"a","type":"quantitative"},"y":{"field":"lo","type":"quantitative"},"y2":{"field":"hi"},"fill":{"field":"s","type":"nominal","scale":{"domain":["Women","Men"],"range":["#e87878","#6f6fd0"]},"legend":null}}},
   {"data":{"name":"fit"},"transform":[{"filter":"datum.p=='J'"}],"mark":{"type":"line","interpolate":"monotone","strokeWidth":3},"encoding":{"x":{"field":"a","type":"quantitative"},"y":{"field":"f","type":"quantitative"},"color":{"field":"s","type":"nominal","scale":{"domain":["Men","Women"],"range":["#14148c","#e0161b"]},"legend":{"title":null,"symbolType":"stroke","orient":"none","legendX":1010,"legendY":1790,"direction":"horizontal"}}}},
   {"data":{"name":"pts"},"transform":[{"filter":"datum.p=='J' && datum.s=='Men'"}],"mark":{"type":"circle","size":110,"opacity":1,"color":"#14148c"},"encoding":{"x":{"field":"a","type":"quantitative","scale":{"domain":[45,83],"nice":false,"zero":false},"axis":{"values":[50,55,60,65,70,75,80],"title":"Age (years)"}},"y":{"field":"v","type":"quantitative","scale":{"domain":[21.604,22.588],"nice":false,"zero":false},"axis":{"values":[21.7,21.9,22.1,22.3,22.5],"format":".1f","title":["Multilayer clustering","coefficient"]}}}},
   {"data":{"name":"pts"},"transform":[{"filter":"datum.p=='J' && datum.s=='Women'"}],"mark":{"type":"circle","size":110,"opacity":1,"color":"#e0161b"},"encoding":{"x":{"field":"a","type":"quantitative"},"y":{"field":"v","type":"quantitative"}}},
   {"data":{"name":"sig"},"transform":[{"filter":"datum.p=='J'"}],"mark":{"type":"text","text":"*","font":"Liberation Sans","fontSize":23,"color":"#333","baseline":"middle"},"encoding":{"x":{"field":"a","type":"quantitative"},"y":{"datum":22.505}}},
   {"data":{"values":[{}]},"mark":{"type":"text","text":"Y ~ 1 + Age*Sex","font":"Lato","fontStyle":"italic","fontSize":29,"align":"center","baseline":"alphabetic","color":"#111"},"encoding":{"x":{"datum":64.6},"y":{"datum":22.561}}},
   {"data":{"values":[{}]},"mark":{"type":"point","shape":"triangle-right","filled":true,"size":200,"color":"#000","opacity":1},"encoding":{"x":{"datum":82.1},"y":{"datum":21.604}}},
   {"data":{"values":[{}]},"mark":{"type":"point","shape":"triangle-up","filled":true,"size":200,"color":"#000","opacity":1},"encoding":{"x":{"datum":45},"y":{"datum":22.567}}}
  ]},
 {"width":343,"height":366,"title":{"text":"K)","anchor":"start","frame":"group","dx":-112,"dy":73,"baseline":"alphabetic","fontSize":52,"font":"Lato","fontWeight":"normal","color":"#000"},
  "layer":[
   {"data":{"name":"fit"},"transform":[{"filter":"datum.p=='K'"}],"mark":{"type":"area","interpolate":"monotone","opacity":0.42},"encoding":{"x":{"field":"a","type":"quantitative"},"y":{"field":"lo","type":"quantitative"},"y2":{"field":"hi"},"fill":{"field":"s","type":"nominal","scale":{"domain":["Women","Men"],"range":["#e87878","#6f6fd0"]},"legend":null}}},
   {"data":{"name":"fit"},"transform":[{"filter":"datum.p=='K'"}],"mark":{"type":"line","interpolate":"monotone","strokeWidth":3},"encoding":{"x":{"field":"a","type":"quantitative"},"y":{"field":"f","type":"quantitative"},"color":{"field":"s","type":"nominal","scale":{"domain":["Men","Women"],"range":["#14148c","#e0161b"]},"legend":{"title":null,"symbolType":"stroke","orient":"none","legendX":1010,"legendY":1790,"direction":"horizontal"}}}},
   {"data":{"name":"pts"},"transform":[{"filter":"datum.p=='K' && datum.s=='Men'"}],"mark":{"type":"circle","size":110,"opacity":1,"color":"#14148c"},"encoding":{"x":{"field":"a","type":"quantitative","scale":{"domain":[45,83],"nice":false,"zero":false},"axis":{"values":[50,55,60,65,70,75,80],"title":"Age (years)"}},"y":{"field":"v","type":"quantitative","scale":{"domain":[-2.498,-1.276],"nice":false,"zero":false},"axis":{"values":[-2.4,-2.2,-2.0,-1.8,-1.6,-1.4],"format":".1f","title":["Multilayer global","efficiency"]}}}},
   {"data":{"name":"pts"},"transform":[{"filter":"datum.p=='K' && datum.s=='Women'"}],"mark":{"type":"circle","size":110,"opacity":1,"color":"#e0161b"},"encoding":{"x":{"field":"a","type":"quantitative"},"y":{"field":"v","type":"quantitative"}}},
   {"data":{"name":"sig"},"transform":[{"filter":"datum.p=='K'"}],"mark":{"type":"text","text":"*","font":"Liberation Sans","fontSize":23,"color":"#333","baseline":"middle"},"encoding":{"x":{"field":"a","type":"quantitative"},"y":{"datum":-1.3795}}},
   {"data":{"values":[{}]},"mark":{"type":"text","text":"Y ~ 1 + Age² + Sex","font":"Lato","fontStyle":"italic","fontSize":29,"align":"center","baseline":"alphabetic","color":"#111"},"encoding":{"x":{"datum":64.6},"y":{"datum":-1.326}}},
   {"data":{"values":[{}]},"mark":{"type":"point","shape":"triangle-right","filled":true,"size":200,"color":"#000","opacity":1},"encoding":{"x":{"datum":82.1},"y":{"datum":-2.498}}},
   {"data":{"values":[{}]},"mark":{"type":"point","shape":"triangle-up","filled":true,"size":200,"color":"#000","opacity":1},"encoding":{"x":{"datum":45},"y":{"datum":-1.303}}}
  ]},
 {"width":343,"height":366,"title":{"text":"L)","anchor":"start","frame":"group","dx":-112,"dy":73,"baseline":"alphabetic","fontSize":52,"font":"Lato","fontWeight":"normal","color":"#000"},
  "layer":[
   {"data":{"name":"fit"},"transform":[{"filter":"datum.p=='L'"}],"mark":{"type":"area","interpolate":"monotone","opacity":0.42},"encoding":{"x":{"field":"a","type":"quantitative"},"y":{"field":"lo","type":"quantitative"},"y2":{"field":"hi"},"fill":{"field":"s","type":"nominal","scale":{"domain":["Women","Men"],"range":["#e87878","#6f6fd0"]},"legend":null}}},
   {"data":{"name":"fit"},"transform":[{"filter":"datum.p=='L'"}],"mark":{"type":"line","interpolate":"monotone","strokeWidth":3},"encoding":{"x":{"field":"a","type":"quantitative"},"y":{"field":"f","type":"quantitative"},"color":{"field":"s","type":"nominal","scale":{"domain":["Men","Women"],"range":["#14148c","#e0161b"]},"legend":{"title":null,"symbolType":"stroke","orient":"none","legendX":1010,"legendY":1790,"direction":"horizontal"}}}},
   {"data":{"name":"pts"},"transform":[{"filter":"datum.p=='L' && datum.s=='Men'"}],"mark":{"type":"circle","size":110,"opacity":1,"color":"#14148c"},"encoding":{"x":{"field":"a","type":"quantitative","scale":{"domain":[45,83],"nice":false,"zero":false},"axis":{"values":[50,55,60,65,70,75,80],"title":"Age (years)"}},"y":{"field":"v","type":"quantitative","scale":{"domain":[4.035,5.536],"nice":false,"zero":false},"axis":{"values":[4.2,4.5,4.8,5.1,5.4],"format":".1f","title":["Multilayer global","efficiency"]}}}},
   {"data":{"name":"pts"},"transform":[{"filter":"datum.p=='L' && datum.s=='Women'"}],"mark":{"type":"circle","size":110,"opacity":1,"color":"#e0161b"},"encoding":{"x":{"field":"a","type":"quantitative"},"y":{"field":"v","type":"quantitative"}}},
   {"data":{"name":"sig"},"transform":[{"filter":"datum.p=='L'"}],"mark":{"type":"text","text":"*","font":"Liberation Sans","fontSize":23,"color":"#333","baseline":"middle"},"encoding":{"x":{"field":"a","type":"quantitative"},"y":{"datum":5.409}}},
   {"data":{"values":[{}]},"mark":{"type":"text","text":"Y ~ 1 + Age*Sex","font":"Lato","fontStyle":"italic","fontSize":29,"align":"center","baseline":"alphabetic","color":"#111"},"encoding":{"x":{"datum":64.6},"y":{"datum":5.495}}},
   {"data":{"values":[{}]},"mark":{"type":"point","shape":"triangle-right","filled":true,"size":200,"color":"#000","opacity":1},"encoding":{"x":{"datum":82.1},"y":{"datum":4.035}}},
   {"data":{"values":[{}]},"mark":{"type":"point","shape":"triangle-up","filled":true,"size":200,"color":"#000","opacity":1},"encoding":{"x":{"datum":45},"y":{"datum":5.503}}}
  ]}
 ]}
]
}
